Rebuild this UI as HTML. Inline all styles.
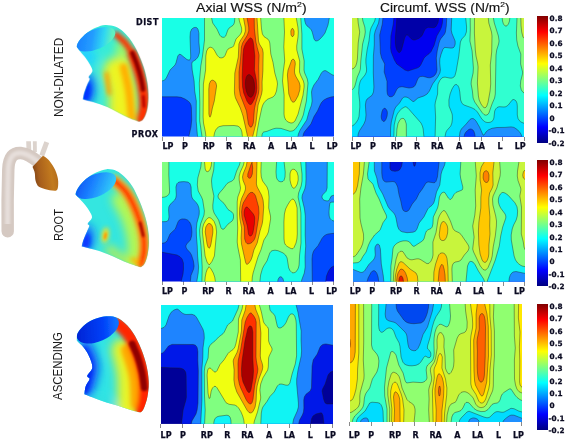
<!DOCTYPE html>
<html><head><meta charset="utf-8"><title>WSS maps</title><style>
html,body{margin:0;padding:0;background:#fff}
body{width:567px;height:439px;position:relative;overflow:hidden;font-family:"Liberation Sans",sans-serif}
.pn{position:absolute;display:block}
.t{position:absolute;white-space:nowrap;line-height:1;color:#111}
.title{font-size:13px;transform-origin:0 0;color:#111;-webkit-text-stroke:0.15px #111}
.title sup{font-size:8px;vertical-align:top;position:relative;top:-0.5px;line-height:1}
.rl{font-size:12.5px;transform-origin:0 0;color:#1a1a1a}
.b{font-family:"DejaVu Sans","Liberation Sans",sans-serif;font-weight:bold;font-size:8px;color:#0b0b22;-webkit-text-stroke:0.25px #0b0b22}
.c{font-size:7.3px}
.cb{position:absolute;left:537.2px;width:10.6px;background:linear-gradient(to bottom,#800000 0%,#ff0000 12.5%,#ffff00 37.5%,#00ffff 62.5%,#0000ff 87.5%,#000080 100%)}
.tk{position:absolute;width:1px;height:4px;background:#8a8a8a}
</style></head><body>
<div class="t title" id="t1" style="left:196px;top:1.1px;transform:scaleX(1.085)">Axial WSS (N/m<sup>2</sup>)</div>
<div class="t title" id="t2" style="left:380px;top:1.1px;transform:scaleX(1.06)">Circumf. WSS (N/m<sup>2</sup>)</div>
<div class="t rl" id="r0" style="left:53.3px;top:117.2px;transform:rotate(-90deg) scaleX(0.945)">NON-DILATED</div>
<div class="t rl" id="r1" style="left:53.4px;top:240.8px;transform:rotate(-90deg) scaleX(0.885)">ROOT</div>
<div class="t rl" id="r2" style="left:51.6px;top:400px;transform:rotate(-90deg) scaleX(0.915)">ASCENDING</div>
<div class="t b" style="left:136px;top:19.3px;letter-spacing:.5px">DIST</div>
<div class="t b" style="left:131.6px;top:130.7px;letter-spacing:.55px">PROX</div>
<div class="tk" style="left:161.8px;top:136.5px"></div>
<div class="t b" style="left:162.5px;top:143px">LP</div>
<div class="tk" style="left:183.2px;top:136.5px"></div>
<div class="t b" style="left:181.9px;top:143px">P</div>
<div class="tk" style="left:204.7px;top:136.5px"></div>
<div class="t b" style="left:202.7px;top:143px">RP</div>
<div class="tk" style="left:226.2px;top:136.5px"></div>
<div class="t b" style="left:226.1px;top:143px">R</div>
<div class="tk" style="left:247.6px;top:136.5px"></div>
<div class="t b" style="left:243.1px;top:143px">RA</div>
<div class="tk" style="left:269.1px;top:136.5px"></div>
<div class="t b" style="left:268.0px;top:143px">A</div>
<div class="tk" style="left:290.5px;top:136.5px"></div>
<div class="t b" style="left:285.6px;top:143px">LA</div>
<div class="tk" style="left:312.0px;top:136.5px"></div>
<div class="t b" style="left:309.6px;top:143px">L</div>
<div class="tk" style="left:333.4px;top:136.5px"></div>
<div class="t b" style="left:326.7px;top:143px">LP</div>
<div class="tk" style="left:351.9px;top:136.5px"></div>
<div class="t b" style="left:350.5px;top:143px">LP</div>
<div class="tk" style="left:373.3px;top:136.5px"></div>
<div class="t b" style="left:369.9px;top:143px">P</div>
<div class="tk" style="left:394.8px;top:136.5px"></div>
<div class="t b" style="left:390.7px;top:143px">RP</div>
<div class="tk" style="left:416.2px;top:136.5px"></div>
<div class="t b" style="left:414.1px;top:143px">R</div>
<div class="tk" style="left:437.7px;top:136.5px"></div>
<div class="t b" style="left:431.1px;top:143px">RA</div>
<div class="tk" style="left:459.1px;top:136.5px"></div>
<div class="t b" style="left:456.0px;top:143px">A</div>
<div class="tk" style="left:480.6px;top:136.5px"></div>
<div class="t b" style="left:473.6px;top:143px">LA</div>
<div class="tk" style="left:502.0px;top:136.5px"></div>
<div class="t b" style="left:497.6px;top:143px">L</div>
<div class="tk" style="left:523.5px;top:136.5px"></div>
<div class="t b" style="left:514.7px;top:143px">LP</div>
<div class="tk" style="left:161.8px;top:281.4px"></div>
<div class="t b" style="left:162.0px;top:288.3px">LP</div>
<div class="tk" style="left:183.2px;top:281.4px"></div>
<div class="t b" style="left:181.4px;top:288.3px">P</div>
<div class="tk" style="left:204.7px;top:281.4px"></div>
<div class="t b" style="left:202.2px;top:288.3px">RP</div>
<div class="tk" style="left:226.2px;top:281.4px"></div>
<div class="t b" style="left:225.6px;top:288.3px">R</div>
<div class="tk" style="left:247.6px;top:281.4px"></div>
<div class="t b" style="left:242.6px;top:288.3px">RA</div>
<div class="tk" style="left:269.1px;top:281.4px"></div>
<div class="t b" style="left:267.5px;top:288.3px">A</div>
<div class="tk" style="left:290.5px;top:281.4px"></div>
<div class="t b" style="left:285.1px;top:288.3px">LA</div>
<div class="tk" style="left:312.0px;top:281.4px"></div>
<div class="t b" style="left:309.1px;top:288.3px">L</div>
<div class="tk" style="left:333.4px;top:281.4px"></div>
<div class="t b" style="left:326.2px;top:288.3px">LP</div>
<div class="tk" style="left:352.8px;top:281.5px"></div>
<div class="t b" style="left:349.8px;top:288.3px">LP</div>
<div class="tk" style="left:374.2px;top:281.5px"></div>
<div class="t b" style="left:369.2px;top:288.3px">P</div>
<div class="tk" style="left:395.7px;top:281.5px"></div>
<div class="t b" style="left:390.0px;top:288.3px">RP</div>
<div class="tk" style="left:417.1px;top:281.5px"></div>
<div class="t b" style="left:413.4px;top:288.3px">R</div>
<div class="tk" style="left:438.6px;top:281.5px"></div>
<div class="t b" style="left:430.4px;top:288.3px">RA</div>
<div class="tk" style="left:460.1px;top:281.5px"></div>
<div class="t b" style="left:455.3px;top:288.3px">A</div>
<div class="tk" style="left:481.5px;top:281.5px"></div>
<div class="t b" style="left:472.9px;top:288.3px">LA</div>
<div class="tk" style="left:503.0px;top:281.5px"></div>
<div class="t b" style="left:496.9px;top:288.3px">L</div>
<div class="tk" style="left:524.4px;top:281.5px"></div>
<div class="t b" style="left:514.0px;top:288.3px">LP</div>
<div class="tk" style="left:160.1px;top:423.7px"></div>
<div class="t b" style="left:160.6px;top:431.5px">LP</div>
<div class="tk" style="left:181.5px;top:423.7px"></div>
<div class="t b" style="left:180.0px;top:431.5px">P</div>
<div class="tk" style="left:203.0px;top:423.7px"></div>
<div class="t b" style="left:200.8px;top:431.5px">RP</div>
<div class="tk" style="left:224.4px;top:423.7px"></div>
<div class="t b" style="left:224.2px;top:431.5px">R</div>
<div class="tk" style="left:245.9px;top:423.7px"></div>
<div class="t b" style="left:241.2px;top:431.5px">RA</div>
<div class="tk" style="left:267.4px;top:423.7px"></div>
<div class="t b" style="left:266.1px;top:431.5px">A</div>
<div class="tk" style="left:288.8px;top:423.7px"></div>
<div class="t b" style="left:283.7px;top:431.5px">LA</div>
<div class="tk" style="left:310.2px;top:423.7px"></div>
<div class="t b" style="left:307.7px;top:431.5px">L</div>
<div class="tk" style="left:331.7px;top:423.7px"></div>
<div class="t b" style="left:324.8px;top:431.5px">LP</div>
<div class="tk" style="left:349.2px;top:422.1px"></div>
<div class="t b" style="left:348.8px;top:431.5px">LP</div>
<div class="tk" style="left:370.6px;top:422.1px"></div>
<div class="t b" style="left:368.2px;top:431.5px">P</div>
<div class="tk" style="left:392.1px;top:422.1px"></div>
<div class="t b" style="left:389.0px;top:431.5px">RP</div>
<div class="tk" style="left:413.5px;top:422.1px"></div>
<div class="t b" style="left:412.4px;top:431.5px">R</div>
<div class="tk" style="left:435.0px;top:422.1px"></div>
<div class="t b" style="left:429.4px;top:431.5px">RA</div>
<div class="tk" style="left:456.4px;top:422.1px"></div>
<div class="t b" style="left:454.3px;top:431.5px">A</div>
<div class="tk" style="left:477.9px;top:422.1px"></div>
<div class="t b" style="left:471.9px;top:431.5px">LA</div>
<div class="tk" style="left:499.4px;top:422.1px"></div>
<div class="t b" style="left:495.9px;top:431.5px">L</div>
<div class="tk" style="left:520.8px;top:422.1px"></div>
<div class="t b" style="left:513.0px;top:431.5px">LP</div>
<div class="cb" style="top:16.2px;height:126.8px"></div>
<div class="t b c" style="left:549.6px;top:14.85px">0.8</div>
<div class="t b c" style="left:549.6px;top:27.33px">0.7</div>
<div class="t b c" style="left:549.6px;top:39.81px">0.6</div>
<div class="t b c" style="left:549.6px;top:52.29px">0.5</div>
<div class="t b c" style="left:549.6px;top:64.77px">0.4</div>
<div class="t b c" style="left:549.6px;top:77.25px">0.3</div>
<div class="t b c" style="left:549.6px;top:89.73px">0.2</div>
<div class="t b c" style="left:549.6px;top:102.21px">0.1</div>
<div class="t b c" style="left:549.6px;top:114.69px">0</div>
<div class="t b c" style="left:548.6px;top:127.17px">-0.1</div>
<div class="t b c" style="left:548.6px;top:139.65px">-0.2</div>
<div class="cb" style="top:160px;height:126.2px"></div>
<div class="t b c" style="left:549.6px;top:158.65px">0.8</div>
<div class="t b c" style="left:549.6px;top:171.13px">0.7</div>
<div class="t b c" style="left:549.6px;top:183.61px">0.6</div>
<div class="t b c" style="left:549.6px;top:196.09px">0.5</div>
<div class="t b c" style="left:549.6px;top:208.57px">0.4</div>
<div class="t b c" style="left:549.6px;top:221.05px">0.3</div>
<div class="t b c" style="left:549.6px;top:233.53px">0.2</div>
<div class="t b c" style="left:549.6px;top:246.01px">0.1</div>
<div class="t b c" style="left:549.6px;top:258.49px">0</div>
<div class="t b c" style="left:548.6px;top:270.97px">-0.1</div>
<div class="t b c" style="left:548.6px;top:283.45px">-0.2</div>
<div class="cb" style="top:304px;height:126.4px"></div>
<div class="t b c" style="left:549.6px;top:302.65px">0.8</div>
<div class="t b c" style="left:549.6px;top:315.13px">0.7</div>
<div class="t b c" style="left:549.6px;top:327.61px">0.6</div>
<div class="t b c" style="left:549.6px;top:340.09px">0.5</div>
<div class="t b c" style="left:549.6px;top:352.57px">0.4</div>
<div class="t b c" style="left:549.6px;top:365.05px">0.3</div>
<div class="t b c" style="left:549.6px;top:377.53px">0.2</div>
<div class="t b c" style="left:549.6px;top:390.01px">0.1</div>
<div class="t b c" style="left:549.6px;top:402.49px">0</div>
<div class="t b c" style="left:548.6px;top:414.97px">-0.1</div>
<div class="t b c" style="left:548.6px;top:427.45px">-0.2</div>
<svg class="pn" style="left:162px;top:18px" width="172" height="118.5" viewBox="0 0 172 118.5">
<rect width="172" height="118.5" fill="#0038ff"/>
<path fill="#1e90ff" fill-rule="evenodd" d="M0,0 172,0 172,78.6 169,79 165,80.3 162,81.9 160,83.8 158.6,86 155.5,93 152,98.6 148.9,106 142.3,114 141.4,116 141,118.5 26.8,118.5 29,108.9 29.7,102 29.4,90 29,87.2 28,84.9 26,83 23,81 19,79.3 15,78.8 0,78.8 0,0Z"/>
<path fill="#19ffe6" fill-rule="evenodd" d="M0,0 142.5,0 142.8,3 143.7,6 145,7.9 148,10.3 149.3,12 150.2,14 152,20.9 153,22.5 154,23 156,22.6 158,21 160.8,18 163,15 166,7 167.3,0 172,0 172,57.4 170,56.7 164,52.8 163,52.6 161.3,53 159.4,55 156,61.5 151.9,67 150.1,71 149.5,74 150.1,83 149.5,87 147,93.7 144.7,102 138.1,112 136.4,116 135.9,118.5 35.5,118.5 34.2,103 34.3,83 32.7,73 32.1,63 30.2,52 29.8,46 30.2,44 34,41.4 36,39 37.4,35 37.6,32 36.9,24 36.9,16 36.3,12 35,9.9 34,9.4 32,9.5 29.8,11 28.4,14 28,19 28.7,38 28.6,40 28,41.7 27,42.1 25,41.6 19,36.7 18,36.3 17,36.4 15.8,38 14,44.8 13,47 8,52.1 4,60.6 2,62.4 0,62.9 0,0Z"/>
<path fill="#80ff80" fill-rule="evenodd" d="M42.5,0 49.6,0 50.7,5 55,11.1 57.7,17 59,18.6 61,19.4 62.6,19 63.7,18 65.8,12 67,10.1 71,7.3 71.9,6 72.5,4 72.8,0 138.8,0 139.9,16 139.9,31 142.2,43 142,52 142.7,55 145.3,61 145.9,66 144.4,83 141.3,97 139.7,101 136.9,106 134,110.3 132,112.2 130,113.2 128,113.3 118,110.2 113,110.3 105,113.3 101.7,114 101,114.5 100.2,116 99.8,118.5 40,118.5 37.7,103 37.8,85 37.3,65 38.8,48 40.5,38 42.5,22 42.5,0Z"/>
<path fill="#f0ff10" fill-rule="evenodd" d="M76.9,0 98.7,0 99.5,11 100.4,16 102,18.6 106,21.2 107.2,23 107.8,25 108.8,36 111,44.4 112.8,55 115.3,64 115.3,68 114.2,74 113.5,76 112,78.1 110,79.5 105,81.6 103,83.5 101,86.5 99.8,90 97,102.9 95,114 94.5,118.5 80.4,118.5 79.9,114 79,111.3 78,109.7 76,108.1 72,107.5 61,107.7 58,108.2 56,109.3 54,111.6 52.5,115 51.9,118.5 43.9,118.5 43.4,114 41.5,105 41.1,99 41.4,66 43.6,52 43.8,38 44.6,33 46.4,30 48,29.2 49,29.3 50.4,30 52,31.5 55,37.1 57,39.3 58,39.8 60,39.9 62,38.9 63,37.5 65,32.6 66,31.1 67.8,30 70.6,29 71.6,28 74,21 78,16.8 79.1,15 79.7,13 79.6,10 77.4,3 76.9,0ZM121.9,0 134.3,0 135.9,9 136.3,14 136,19 134.7,28 134.8,32 137.7,43 137.5,54 138.5,57 141.4,63 142.1,66 142.1,70 141.2,76 137,93.3 133.6,102 132,104.1 130,105 127,104.5 124.7,103 123,100.8 122.1,97 122.1,77 120.5,63 121.2,54 122.7,43 121.8,29 122.5,14 121.9,0Z"/>
<path fill="#ffa000" fill-rule="evenodd" d="M81.5,0 95,0 96.5,23 97.4,26 100.5,31 101.1,34 100.9,53 100.1,64 100.2,73 99.6,76 96.1,87 93.8,106 90.7,118.5 85.6,118.5 80.1,95 78,89.4 73.8,81 72.5,75 72.8,55 76.3,39 76.9,26 78.1,23 82.1,17 83.4,13 83.2,9 81.5,0ZM129.6,11 130,10.5 131,10.7 132.1,13 132,16.8 131,18.4 130,18.5 129,16.9 128.8,13 129.6,11ZM129.7,42 131,41 132,41.6 133,43.4 133.3,46 132.5,52 132.6,55 133.6,58 137.1,64 138.1,68 137.8,72 136,77.9 133,83.3 132,84.1 131,84.2 130,83.6 129,82.1 126.8,76 125.4,57 126,52.2 129.7,42ZM48.6,63 50,62.1 51,62.2 52.5,63 54,65 54.6,68 52.3,83 50.4,90 49,97 48,99.2 47.3,98 46.9,96 46.8,71 47.3,66 48.6,63Z"/>
<path fill="#ff4800" fill-rule="evenodd" d="M85.1,0 92.2,0 92.4,11 93.9,24 94.9,29 96.8,35 97.1,38 96.7,47 96.8,74 92.5,90 91.3,105 90,108.4 89,109.2 88,108.9 86.4,106 84.5,93 78.3,77 77.2,70 77,54 78.5,41 79.4,29 80.6,25 85.4,17 86.8,13 86.7,9 85.1,0Z"/>
<path fill="#cc0000" fill-rule="evenodd" d="M88.5,20 89,19.8 90.2,21 91,22.9 91.7,27 92.8,38 92.4,52 94.3,62 94.8,70 94.3,75 92.4,81 90,85.6 89,86.5 88,86.6 87,86 85,83.2 81.7,75 80.6,69 80.2,59 81,36.9 81.6,31 82.5,28 84,25 87,20.9 88.5,20Z"/>
<path fill="#8c0000" fill-rule="evenodd" d="M85.6,57 87,56.5 88,56.8 90,58.6 91.3,61 92.3,65 92.6,70 92.2,74 91,77.2 90,78.6 89,79.3 87.6,79 86,77.2 84.6,74 83.7,70 83.4,66 83.6,62 84.3,59 85.6,57Z"/>
<path fill="none" stroke="#1a1a1a" stroke-opacity="0.75" stroke-width="0.55" d="M172,78.6 169,79 165,80.3 162,81.9 160,83.8 158.6,86 155.5,93 152,98.6 148.9,106 142.3,114 141.4,116 141,118.5M26.8,118.5 29,108.9 29.7,102 29.4,90 29,87.2 28,84.9 26,83 23,81 19,79.3 15,78.8 0,78.8M142.5,0 142.8,3 143.7,6 145,7.9 148,10.3 149.3,12 150.2,14 152,20.9 153,22.5 154,23 156,22.6 158,21 160.8,18 163,15 166,7 167.3,0M172,57.4 170,56.7 164,52.8 163,52.6 161.3,53 159.4,55 156,61.5 151.9,67 150.1,71 149.5,74 150.1,83 149.5,87 147,93.7 144.7,102 138.1,112 136.4,116 135.9,118.5M35.5,118.5 34.2,103 34.3,83 32.7,73 32.1,63 30.2,52 29.8,46 30.2,44 34,41.4 36,39 37.4,35 37.6,32 36.9,24 36.9,15 35.9,11 35,9.9 34,9.4 32,9.5 29.8,11 28.4,14 28,19 28.7,38 28.6,40 28,41.7 27,42.1 25,41.6 19,36.7 18,36.3 17,36.4 15.8,38 14,44.8 13,47 8,52.1 4,60.6 2,62.4 0,62.9M49.6,0 50.7,5 55,11.1 57.7,17 59,18.6 61,19.4 62.6,19 63.7,18 65.8,12 67,10.1 71,7.3 71.9,6 72.5,4 72.8,0M138.8,0 139.9,16 139.9,31 142.2,43 142,52 142.7,55 145.3,61 146,65 144.4,83 141.3,97 139.7,101 136,107.5 133,111.4 131,112.8 128,113.3 119,110.4 114,110.2 111,110.9 105,113.3 101.7,114 101,114.5 100.2,116 99.8,118.5M40,118.5 37.7,103 37.8,85 37.3,65 38.8,48 40.5,38 42.5,22 42.5,0M98.7,0 99.5,11 100.4,16 102,18.6 106,21.2 107.2,23 107.8,25 108.8,36 111,44.4 112.8,55 115.1,63 115.5,66 114.5,73 112.9,77 111,79 106,81 104.5,82 102,84.8 100.8,87 99.8,90 97,102.9 95,114 94.5,118.5M134.3,0 135.9,9 136.3,14 136,19 134.7,28 134.8,32 137.7,43 137.5,54 138.5,57 141.4,63 142.1,66 142.1,69 141,77.2 136,96.3 133,103 131,104.7 129,105.1 126,104 123.7,102 122.4,99 122,96 122.1,77 120.5,63 121.2,54 122.7,43 121.8,29 122.5,14 121.9,0M43.9,118.5 43.4,114 41.5,105 41.1,99 41.4,66 43.6,52 43.8,38 44.6,33 46.4,30 48,29.2 49,29.3 50.4,30 52,31.5 55,37.1 57,39.3 58,39.8 60,39.9 62,38.9 63,37.5 65,32.6 66,31.1 67.8,30 70.6,29 71.6,28 74,21 78,16.8 79.1,15 79.7,13 79.6,10 77.4,3 76.9,0M80.4,118.5 79.9,114 79,111.3 78,109.7 76,108.1 72,107.5 61,107.7 57,108.7 55,110.2 53.7,112 52.5,115 51.9,118.5M95,0 96.5,23 97.4,26 100.5,31 101.2,35 100.9,53 100.1,64 100.2,72 99.6,76 96.1,87 93.8,106 90.7,118.5M129.6,11 130,10.5 131,10.7 132.1,13 132,16.8 131,18.4 130,18.5 129,16.9 128.8,13 129.6,11M129.7,42 131,41 132,41.6 133,43.4 133.3,46 132.5,52 132.6,55 133.6,58 137.1,64 138.1,68 137.8,72 136,77.9 133,83.3 132,84.1 131,84.2 130,83.6 129,82.1 126.8,76 125.4,57 126,52.2 129.7,42M48.6,63 50,62.1 51,62.2 52.5,63 54,65 54.6,68 52.3,83 50.4,90 49,97 48,99.2 47.3,98 46.9,96 46.8,71 47.3,66 48.6,63M85.6,118.5 81,97.9 78.3,90 73.5,80 72.7,77 72.4,73 72.8,55 76.3,39 76.9,26 78.1,23 82.1,17 83.4,13 83.2,9 81.5,0M92.2,0 92.4,11 93.9,24 97.1,37 96.7,48 97,71 96.4,76 93.7,85 92.4,91 91.3,105 90,108.4 89,109.2 88,108.9 86.4,106 84.5,93 78.3,77 77.2,70 77,54 78.5,41 79.4,29 80.6,25 85.4,17 86.8,13 86.7,9 85.1,0M88.5,20 89,19.8 90.2,21 91,22.9 91.7,27 92.8,38 92.4,52 94.3,62 94.8,70 94.3,75 92.4,81 90,85.6 89,86.5 88,86.6 87,86 85,83.2 81.7,75 80.6,69 80.2,59 81,36.9 81.6,31 82.5,28 84,25 87,20.9 88.5,20M85.6,57 87,56.5 88,56.8 90,58.6 91.3,61 92.3,65 92.6,70 92.2,74 91,77.2 90,78.6 89,79.3 87.6,79 86,77.2 84.6,74 83.7,70 83.4,66 83.6,62 84.3,59 85.6,57"/>
</svg>
<svg class="pn" style="left:352px;top:18px" width="172" height="118.5" viewBox="0 0 172 118.5">
<rect width="172" height="118.5" fill="#0000a8"/>
<path fill="#0000f0" fill-rule="evenodd" d="M0,0 44.8,0 44.5,7 43.4,19 43.4,25 43.9,29 44.9,32 46,33.8 47,34.5 48,34.3 49.5,32 52.6,20 54,17.2 55,16.8 56,17.3 59,20.6 61,21.9 63,22 67,20.3 70,17.7 72.6,12 74,10.2 76,9.3 82,9.7 84,8.4 86,4.6 86.7,0 172,0 172,118.5 0,118.5 0,0Z"/>
<path fill="#0040ff" fill-rule="evenodd" d="M0,0 41.8,0 41.3,6 38.9,18 38.6,30 39.2,34 42.4,42 44.8,46 53,52.1 56,53 65,50.1 67.1,49 68.7,47 72.1,40 74,38 77,35.8 79,33.6 82,27.5 84.8,18 88.2,12 89.5,9 90.4,5 90.7,0 172,0 172,118.5 0,118.5 0,0Z"/>
<path fill="#1e90ff" fill-rule="evenodd" d="M0,0 30.9,0 30.3,6 27.7,17 28.4,35 29.6,40 32.7,46 32.2,54 35,63.3 35,73 35.4,76 36,77.3 37,78.4 39,78.9 41,78.1 42,77.1 45,71 47,69.2 50,68.7 57,70 60,69.6 62,68.7 63.4,67 66,60.4 68,58.6 71,58.3 76,59.7 78,59.8 81,58.7 83,57 84.2,55 85,52 84.3,40 85.2,33 87,25 88,22.1 89,20.4 92.6,16 93.4,14 94.3,8 94.7,0 172,0 172,118.5 123.1,118.5 122.8,116 122,113.6 121,112 119,110.9 117,111.3 114,113.9 112.7,116 112.1,118.5 0,118.5 0,0ZM32,90.3 31,91.3 30,93.5 29.2,98 29.3,100 30,102.2 31,103.3 32,103.4 33,102.8 34,101.2 35.1,98 35.4,95 35.1,93 34,91.1 33,90.3 32,90.3Z"/>
<path fill="#00e0ff" fill-rule="evenodd" d="M0,0 27.4,0 26.6,5 23.2,13 22.3,17 22.3,27 21.4,38 21.3,55 21.9,69 21.5,74 20,77.3 15.1,81 14,83 13.4,87 14,97 13.5,102 11.9,106 7.3,113 6.2,116 5.9,118.5 0,118.5 0,0ZM99.7,0 172,0 172,118.5 169.7,118.5 169.4,117 168.3,115 164.6,111 162,109.4 159,108.9 153,109.4 145,109.5 140,110.3 136.2,112 134,114 132,117.1 131,117 127.5,109 124,103 122,100.9 120,100.4 118,101.4 114.2,106 109.4,111 108,114 107.4,118.5 38.5,118.5 38.6,110 39.3,104 42.3,92 43.8,89 47.5,85 50.6,80 52,79.1 54,79 56,79.6 61,83.6 62,83.4 65.9,80 72,77.9 75.1,76 77.4,73 80.6,66 85.7,59 87.9,55 88.4,52 87.7,45 87.8,41 89,36.4 91,31.1 92,29.9 93,29.4 99,30.1 101,29.9 102,29.1 102.6,28 103.2,26 103.1,23 100,15.6 99.2,12 99.7,0Z"/>
<path fill="#30ffd0" fill-rule="evenodd" d="M0,0 23.4,0 22.7,3 19,10 18,14 17,22.9 15.1,32 13.9,41 13.9,45 14.6,51 14.4,54 13,57 8.9,62 8,64 7.1,68 6.7,75 7.7,84 7.8,89 7,98.5 6,101.5 4.5,104 2,106.9 0,108.1 0,0ZM113.7,0 172,0 172,105.3 168.9,104 167,102.2 166,100.4 165.3,97 165.3,88 165,85.3 164,82.9 162,81.5 161,81.5 160,82.2 156.3,87 154,88.7 152,89 147,88.7 145,89.6 143.7,91 142.7,93 141.9,100 141,102.4 139,104 137,104.5 135,104.5 133,103.9 130,101.3 125.4,94 123,91.5 120,89.9 112,87 110,85.4 108.6,82 107.8,74 107,69.9 106,67.8 105,66.8 104,66.5 103,66.8 102,67.7 100,71.1 98.1,76 96.9,82 97,88 99.8,95 100.4,98 100.2,103 99.3,107 98.1,109 94.5,113 93.3,116 93,118.5 83.1,118.5 83.6,99 83,87 83.4,84 85.6,76 85.7,69 86.1,66 88,62.1 90,59.9 91,59.4 93,59.1 98,60.1 100,60.1 102,59 103,57.4 104.2,53 106.8,38 108.4,24 109.8,21 113,17.6 114.4,14 114.6,9 113.7,0ZM52.4,89 54,88.8 56,90.2 69,105 70.4,108 71.2,111 71.9,118.5 41.8,118.5 42.2,107 44,99.1 45.3,96 47,93.4 50,90.5 52.4,89Z"/>
<path fill="#80ff80" fill-rule="evenodd" d="M0,0 10.4,0 10.9,3 12.8,9 13.3,13 13,17 10.6,26 8.2,52 5.3,59 2.9,68 1.9,70 0,71.9 0,0ZM118.2,0 141.4,0 142,4 145.3,14 146.8,20 147,24 144.7,32 143.9,38 143.5,73 143.1,78 137,94.7 136,96.3 134,97.3 132,96.6 130,94.4 122.7,84 121.1,80 120.4,73 119.1,66 119.3,63 121.1,55 121.4,50 120.1,33 117.9,23 118.3,12 118.2,0ZM150.2,0 157.8,0 157,4.8 156,6.8 155,7.8 154,8.1 153,7.9 152,7 150.7,4 150.2,0ZM165,0 172,0 172,74.9 171,74.3 169.3,72 168.3,68 168.7,63 170.5,56 170.6,54 168.6,46 168.8,36 165.9,28 164.7,22 164.4,15 165,0ZM48.7,101 50,100.3 51,100.3 52,100.8 53.8,104 54.6,109 54.4,118.5 44.5,118.5 44.8,112 45.6,107 47,103.1 48.7,101Z"/>
<path fill="#c8f53c" fill-rule="evenodd" d="M0,0 5.8,0 6.2,5 7.7,14 6.2,24 5.8,36 4.9,44 4.1,47 3,49.1 2,50.2 0,51 0,0ZM122.5,0 136.3,0 136.8,5 139.8,16 139.7,34 138.3,47 138.8,62 138.5,70 135.9,85 134.8,88 134,89.2 133,89.8 132,89.6 131,88.8 129,86 127.2,82 126.4,78 125.4,65 126.1,49 125.6,45 124,38 123.3,32 122.4,15 122.5,0ZM168.8,0 172,0 172,20.3 171,19 169.7,14 169,7.5 168.8,0Z"/>
<path fill="none" stroke="#1a1a1a" stroke-opacity="0.75" stroke-width="0.55" d="M44.8,0 44.5,7 43.4,19 43.4,25 43.9,29 44.9,32 46,33.8 47,34.5 48,34.3 49.5,32 52.6,20 54,17.2 55,16.8 56,17.3 59,20.6 61,21.9 63,22 67,20.3 70,17.7 72.6,12 74,10.2 76,9.3 82,9.7 84,8.4 86,4.6 86.7,0M41.8,0 41.3,6 38.9,18 38.6,30 39.2,34 42.4,42 44.8,46 53,52.1 56,53 65,50.1 67.1,49 68.7,47 72.1,40 74,38 77,35.8 79,33.6 82,27.5 84.8,18 88.2,12 89.5,9 90.4,5 90.7,0M30.9,0 30.3,6 27.7,17 28.4,35 29.6,40 32.7,46 32.2,54 35,63.3 35,73 35.4,76 36,77.3 37,78.4 39,78.9 41,78.1 42,77.1 45,71 47,69.2 50,68.7 57,70 60,69.6 62,68.7 63.4,67 66,60.4 68,58.6 71,58.3 76,59.7 78,59.8 81,58.7 83,57 84.2,55 85,52 84.3,40 85.2,33 87,25 88,22.1 89,20.4 92.6,16 93.4,14 94.3,8 94.7,0M32,90.3 31,91.3 30,93.5 29.2,98 29.3,100 30,102.2 31,103.3 32,103.4 33,102.8 34,101.2 35.1,98 35.4,95 35.1,93 34,91.1 33,90.3 32,90.3M123.1,118.5 122.8,116 122,113.6 121,112 119,110.9 117,111.3 114,113.9 112.7,116 112.1,118.5M27.4,0 26.6,5 23.2,13 22.3,17 22.3,27 21.4,38 21.3,55 21.9,69 21.5,74 20,77.3 15.1,81 14,83 13.4,87 14,97 13.5,102 11.9,106 7.3,113 6.2,116 5.9,118.5M38.5,118.5 38.6,110 39.3,104 42.3,92 43.8,89 47.5,85 50.6,80 52,79.1 54,79 56,79.6 61,83.6 62,83.4 65.9,80 72,77.9 75.1,76 77.4,73 80.6,66 85.7,59 87.9,55 88.4,52 87.7,45 87.8,41 89,36.4 91,31.1 92,29.9 93,29.4 99,30.1 101,29.9 102,29.1 102.6,28 103.2,26 103.1,23 100,15.6 99.2,12 99.7,0M169.7,118.5 169.4,117 168.3,115 165.8,112 162,109.4 159,108.9 153,109.4 145,109.5 140,110.3 136.2,112 134,114 132,117.1 131,117 127.5,109 124,103 122,100.9 120,100.4 118,101.4 114.2,106 109.4,111 108,114 107.4,118.5M23.4,0 22.7,3 19,10 18,14 17,22.9 15.1,32 13.9,41 13.9,45 14.6,51 14.4,54 13,57 8.9,62 8,64 7.1,68 6.7,75 7.7,84 7.8,89 7,98.5 6,101.5 4.5,104 2,106.9 0,108.1M172,105.3 168.9,104 167,102.2 166,100.4 165.3,97 165.3,88 165,85.3 164,82.9 162,81.5 161,81.5 160,82.2 156.3,87 154,88.7 152,89 147,88.7 145,89.6 143.7,91 142.7,93 141.9,100 141,102.4 139,104 137,104.5 135,104.5 133,103.9 130,101.3 125.4,94 123,91.5 120,89.9 112,87 110,85.4 108.6,82 107.8,74 107,69.9 106,67.8 105,66.8 104,66.5 103,66.8 102,67.7 100,71.1 98.1,76 96.9,82 97,88 99.8,95 100.3,97 100.4,101 99.9,105 98.8,108 95,112.3 94,114 93,118.5M41.8,118.5 42.2,107 44,99 45.3,96 47,93.4 50,90.5 53,88.8 54,88.8 56,90.2 69,105 70.4,108 71.2,111 71.9,118.5M83.1,118.5 83.6,99 83,87 83.4,84 85.6,76 85.7,69 86.1,66 88,62.1 90,59.9 91,59.4 93,59.1 98,60.1 100,60.1 102,59 103,57.4 104.2,53 106.8,38 108.4,24 109.8,21 113,17.6 114.4,14 114.6,9 113.7,0M10.4,0 10.9,3 12.8,9 13.3,14 12.7,18 10.6,26 8.8,43 8.4,51 7.5,54 5.3,59 2.9,68 1.9,70 0,71.9M141.4,0 142.3,5 146.4,18 147.1,23 146.6,26 144.7,32 144,37.1 143.3,76 142.6,80 140,86 137,94.7 136,96.3 134,97.3 132,96.6 130,94.4 122.7,84 121.1,80 120.4,73 119.1,66 119.3,63 121.1,55 121.4,50 120.1,33 117.9,23 118.3,12 118.2,0M157.8,0 157.5,3 156.4,6 155,7.8 154,8.1 153,7.9 151.4,6 150.5,3 150.2,0M172,74.9 171,74.3 169.3,72 168.3,68 168.7,63 170.5,56 170.6,54 168.6,46 168.8,36 165.9,28 164.7,22 164.4,15 165,0M44.5,118.5 44.9,111 46,105.5 48,101.7 49,100.8 51,100.3 52,100.8 53,102.1 54.3,106 54.4,118.5M5.8,0 6.2,5 7.7,14 6.2,25 5.4,41 4.7,45 3.7,48 2,50.2 0,51M136.3,0 136.8,5 139.5,14 140,18 139.7,34 138.3,47 138.7,66 138.1,73 136,84.4 134.8,88 134,89.2 133,89.8 132,89.6 131,88.8 129,86 127.2,82 126.4,78 125.4,65 126.1,49 125.6,45 124,38 123.3,32 122.4,15 122.5,0M172,20.3 171,19 169.7,14 169,7.5 168.8,0"/>
</svg>
<svg class="pn" style="left:162px;top:162px" width="172" height="119.5" viewBox="0 0 172 119.5">
<rect width="172" height="119.5" fill="#0010e0"/>
<path fill="#0048ff" fill-rule="evenodd" d="M0,0 172,0 172,103.9 169,105.6 166.5,109 164.5,114 163.7,119.5 19.1,119.5 21,112 21.5,107 21.4,101 20.1,97 18,94.7 15,93 0,90.2 0,0Z"/>
<path fill="#1e90ff" fill-rule="evenodd" d="M0,0 172,0 172,71.3 166,72 164,72.7 162,74 160,76.4 156,83.7 152.3,88 151.2,90 150.4,93 150,97 150.3,119.5 28.3,119.5 29,113.4 31.6,107 32.1,104 31.4,99 29.5,93 28,90.5 24.8,87 23.9,85 24,83.6 24.7,82 28.4,78 29.6,74 29.9,70 29.6,66 29,63 27.6,60 25.5,58 23,57 20,56.9 17.4,58 16,59.9 13.3,67 8,72 5,79.1 3,80.7 0,81.3 0,0Z"/>
<path fill="#19ffe6" fill-rule="evenodd" d="M0,0 143.8,0 144,17 143.7,23 142.8,27 140.3,33 139.9,36 142.5,47 143.3,54 143.2,73 143.7,84 143,95 143.2,105 142.3,111 139.7,118 139.4,119.5 121.7,119.5 121,116.8 120,115.4 119,114.8 118,114.8 117,115.6 116,117.7 115.7,119.5 34.8,119.5 36.2,111 36.6,105 35.6,94 34.3,68 34.9,61 37.3,52 37.3,49 36.6,45 35,41.5 31,37.2 29.8,35 29.3,32 29.1,25 28,21.6 26,20.1 24,19.7 20,19.6 17,20.1 15,21.6 14,24 14.3,33 13.8,36 12.7,38 8,42.6 6.8,45 6.6,48 7,55 6.4,58 5.5,59 4,59.6 0,59.7 0,0ZM165.3,0 172,0 172,33.2 169.4,34 168.4,35 167,38.4 166,38.9 165,39 163,38.6 161,37.4 159.9,35 160.5,33 164.2,29 165.1,26 165.3,0ZM168,41 169,40.2 172,40.1 172,59 170,58.4 169,57.7 167.4,55 167,49 168,41Z"/>
<path fill="#80ff80" fill-rule="evenodd" d="M0,0 6.9,0 6.8,13 7.7,28 7.4,31 6,33.4 3,35 0,35.4 0,0ZM39.3,0 52.2,0 51.7,8 49.8,16 49.5,19 50,25 51.9,34 50.8,43 50.9,47 52.1,51 56.6,58 59,65.7 60,67 61,67.3 62,67 66,62.1 70,59.1 70.8,58 71.5,56 71.5,53 71,51.5 70,50.2 66,47.5 62,41.4 57.1,37 56,35 56.2,33 57.4,31 61,26.9 65,21.6 67,20.3 70.1,19 72,17.1 74.6,9 77.4,3 78.2,0 114.6,0 114,10 114.4,15 115,17 116,18.5 117,19.3 119,19.9 121,19.3 122,18.3 123,15 123.2,10 122.1,0 138.7,0 140,12 140,19 139.2,24 136.6,31 136.1,35 138.3,46 138.9,51 139,82 137.6,93 137,104 136,107 134,109.8 133,110.5 131,110.9 129.2,110 128,108.6 126.4,105 125.1,96 124.2,94 123,92.5 121,90.9 118,89.4 115,88.5 112,88.2 110,88.7 108,90.6 105,98.9 101,105.4 98.8,112 97.9,119.5 39.9,119.5 40.2,105 39,84 37.8,73 37.6,68 38.6,62 42,53 42.4,49 40.7,38 39.5,35 36.2,29 35.3,23 35.8,16 38.8,5 39.3,0Z"/>
<path fill="#f0ff10" fill-rule="evenodd" d="M42.5,0 49.6,0 48.6,6 47,8.9 46,9.6 45,9.7 44,9 43.5,8 42.8,5 42.5,0ZM82,1 82.1,0 99.2,0 98.9,10 99.3,15 100.6,19 105,25 106.4,29 107,35 106.7,46 108.6,55 108.5,58 106.4,70 105.1,73 101.9,78 99,87.7 96,94.9 91.1,111 90.3,115 90,119.5 78.7,119.5 78.4,98 75.3,81 75.2,75 75.7,66 75.2,54 75.2,39 75.8,35 78,29 78.5,26 77.2,18 77.1,15 78,11 81.1,4 82,1ZM129.4,8 131,7.1 133,7.7 135,10.2 136.1,14 136.2,18 135.3,22 134,24.6 132,26.4 131,26 130,24.7 128.9,22 128,18.1 128,12 128.4,10 129.4,8ZM131,37 132,37.7 133,39.3 134.1,42 135.1,46 135.3,72 134.9,77 134,81 132,85.5 131,86.6 130,86.8 128,86.1 125,84.3 123.6,83 122.5,81 122,77 121.9,60 122.4,52 123.6,47 125.6,43 128,39.2 130,37.2 131,37ZM45.9,56 47,55.5 49,56.1 52,59.3 53.9,64 54.6,70 52.4,94 50,99.4 48,102.2 47,102.9 45,100 43.1,94 40.4,70 40.6,66 41.7,62 44,57.9 45.9,56ZM46.9,105 47,104.7 48,105.5 51.3,111 52.7,115 53.4,119.5 42.8,119.5 43.2,115 44,110.8 45,107.8 46.9,105Z"/>
<path fill="#ffa000" fill-rule="evenodd" d="M85,0 95,0 94.4,22 95.2,25 99.5,33 100.6,36 101.4,40 101.7,45 100.6,60 98,69.1 95.6,80 91.9,88 90.1,95 89,97.9 87,101 85,102.5 84,101.6 83.5,100 79.5,82 79.1,76 79.6,66 77.9,57 77.5,52 77.7,46 78.6,40 79.8,36 82.6,30 83.5,27 83.3,24 81,18.3 80.5,15 81.1,12 84.3,4 85,0ZM45.7,62 47,61.3 49,62.2 50.2,64 50.9,67 50.8,71 49,81.9 48,85.4 47,86.3 46,85.1 45,81.7 43.2,70 43.8,65 45.7,62Z"/>
<path fill="#ff4000" fill-rule="evenodd" d="M89.8,1 90,0.2 90.7,6 90.3,12 89,15.4 88,16.2 87,16.2 85.8,15 85.8,12 89,2.4 89.8,1ZM87.7,31 89,30.3 91,30.6 92.4,32 93.6,34 96.6,45 97,51 96.3,58 94,72 93,75.9 92,78.1 90,80.4 88,81.6 86,81.9 85,81.6 84,80.6 82.7,77 82.4,65 80,55.7 79.6,50 80.1,45 81.2,41 86,32.9 87.7,31Z"/>
<path fill="#e80000" fill-rule="evenodd" d="M85,45 86,45.7 91.3,52 92.3,54 92.7,56 92.4,62 91,70.4 90,72.9 89,73.9 88,74.1 87,73.3 86.5,72 85.4,64 82.2,53 82.2,50 82.8,47 84,45.1 85,45Z"/>
<path fill="none" stroke="#1a1a1a" stroke-opacity="0.75" stroke-width="0.55" d="M172,103.9 169,105.6 166.5,109 164.5,114 163.7,119.5M19.1,119.5 21,112 21.5,107 21.4,101 20.1,97 18,94.7 15,93 0,90.2M172,71.3 166,72 164,72.7 162,74 160,76.4 156,83.7 152.3,88 151.2,90 150.4,93 150,97 150.3,119.5M28.3,119.5 29,113.4 31.6,107 32.1,104 31.4,99 29.5,93 28,90.5 24.8,87 23.9,85 24,83.6 24.7,82 28.4,78 29.6,74 29.9,70 29.6,66 29,63 27.6,60 25.5,58 23,57 20,56.9 17.4,58 16,59.9 13.3,67 8,72 5,79.1 3,80.7 0,81.3M143.8,0 144,17 143.7,23 142.8,27 140.3,33 139.9,36 142.5,47 143.3,54 143.2,73 143.7,84 143,95 143.2,105 142.3,111 139.7,118 139.4,119.5M172,33.2 170,33.7 169,34.4 167,38.4 166,38.9 164,38.8 162,38.2 161,37.4 160.1,36 160,34.3 160.5,33 164,29.4 165.1,26 165.3,0M172,59 170,58.4 168,56.4 167.2,54 167,51 167.4,44 168,40.9 169,40.2 172,40.1M34.8,119.5 36.2,111 36.6,105 35.6,94 35.3,84 34.4,74 34.3,67 34.9,61 37.1,53 37.3,49 36.9,46 35.9,43 34,40.3 30.8,37 29.8,35 29.3,32 29.1,25 28.2,22 27.4,21 26,20.1 22,19.6 17.5,20 16,20.6 15,21.6 13.9,25 14.3,33 13.8,36 12.7,38 8,42.6 6.8,45 6.6,48 7,55 6.4,58 5.5,59 4,59.6 0,59.7M121.7,119.5 121,116.8 120,115.4 119,114.8 118,114.8 117,115.6 116,117.7 115.7,119.5M6.9,0 6.8,13 7.6,30 7,32.1 5.2,34 3,35 0,35.4M52.2,0 51.7,8 49.8,16 49.5,19 50,25 51.9,34 50.8,43 50.9,47 52.1,51 56.6,58 59,65.7 60,67 61,67.3 62,67 66,62.1 70,59.1 70.8,58 71.5,56 71.5,53 71,51.5 70,50.2 66,47.5 62,41.4 57.1,37 56,35 56.2,33 57.4,31 61,26.9 65,21.6 67,20.3 70.1,19 72,17.1 74.6,9 77.4,3 78.2,0M114.6,0 114,10 114.4,15 115,17 116,18.5 117,19.3 119,19.9 121,19.3 122,18.3 123,15 123.2,10 122.1,0M138.7,0 140,12 140,19 139.2,24 136.6,31 136.1,35 138.3,46 138.9,51 139,81 137.6,93 137.1,103 136.4,106 135,108.7 133,110.5 131,110.9 130,110.6 128,108.6 126.7,106 125.1,96 123.5,93 121,90.9 116,88.7 113,88.2 110,88.7 109,89.4 107.8,91 105,98.9 101.7,104 100.3,107 98.6,113 97.9,119.5M39.9,119.5 40.2,105 39,84 37.8,73 37.6,68 38.6,62 42,53 42.4,49 40.7,38 39.5,35 36.2,29 35.3,23 35.8,16 38.8,5 39.3,0M49.6,0 49.2,4 48,7.5 47,8.9 46,9.6 45,9.7 44,9 43.2,7 42.5,0M99.2,0 98.9,10 99.3,15 100.6,19 105,25 106.4,29 107,35 106.7,46 108.5,54 108.6,57 106.4,70 105.1,73 101.9,78 99,87.7 96,94.9 91.1,111 90.3,115 90,119.5M129.4,8 131,7.1 133,7.7 135,10.2 136.1,14 136.2,18 135.3,22 134,24.6 132,26.4 131,26 130,24.7 128.9,22 128,18.1 128,12 128.4,10 129.4,8M131,37 132,37.7 133,39.3 134.1,42 135.1,46 135.3,72 134.9,77 134,81 132,85.5 131,86.6 130,86.8 128,86.1 125,84.3 123.6,83 122.5,81 122,77 121.9,60 122.4,52 123.6,47 125.6,43 128,39.2 130,37.2 131,37M45.9,56 47,55.5 49,56.1 52,59.3 53.9,64 54.6,70 52.4,94 50,99.4 48,102.2 47,102.9 45,100 43.1,94 40.4,70 40.6,66 41.7,62 44,57.9 45.9,56M42.8,119.5 43.2,115 44,110.8 45,107.8 47,104.7 49,106.9 51.3,111 52.7,115 53.4,119.5M78.7,119.5 78.4,98 75.8,85 75.2,80 75.7,66 75.2,54 75.2,40 75.8,35 78,29 78.5,26 77.2,18 77.2,14 78.3,10 81.5,3 82.1,0M95,0 94.4,22 95.2,25 99.5,33 101.1,38 101.7,45 100.9,57 100.2,62 98,69.1 95.2,81 91.9,88 90.1,95 89,97.9 87,101 85,102.5 84,101.6 83.5,100 79.5,82 79.1,76 79.6,66 77.9,57 77.5,52 77.7,46 78.6,40 79.8,36 82.6,30 83.5,27 83.3,24 81,18.3 80.5,15 81.1,12 84.3,4 85,0M45.7,62 47,61.3 49,62.2 50.2,64 50.9,67 50.8,71 49,81.9 48,85.4 47,86.3 46,85.1 45,81.7 43.2,70 43.8,65 45.7,62M89.8,1 90,0.2 90.7,6 90.3,12 89,15.4 88,16.2 87,16.2 85.8,15 85.8,12 89,2.4 89.8,1M87.7,31 89,30.3 91,30.6 92.4,32 93.6,34 96.6,45 97,51 96.3,58 94,72 93,75.9 92,78.1 90,80.4 88,81.6 86,81.9 85,81.6 84,80.6 82.7,77 82.4,65 80,55.7 79.6,50 80.1,45 81.2,41 86,32.9 87.7,31M85,45 86,45.7 91.3,52 92.3,54 92.7,56 92.4,62 91,70.4 90,72.9 89,73.9 88,74.1 87,73.3 86.5,72 85.4,64 82.2,53 82.2,50 82.8,47 84,45.1 85,45"/>
</svg>
<svg class="pn" style="left:353px;top:162px" width="172" height="119.5" viewBox="0 0 172 119.5">
<rect width="172" height="119.5" fill="#0010d8"/>
<path fill="#0050ff" fill-rule="evenodd" d="M0,0 37,0 36.9,6 37.7,8 39,8.8 42,9.3 45,8.8 47,7.4 48.7,4 49.3,0 60,0 61,4.2 62,3.9 62.9,0 172,0 172,119.5 0,119.5 0,0Z"/>
<path fill="#1e90ff" fill-rule="evenodd" d="M0,0 28.8,0 28.8,11 29.2,15 30,17.6 31,19.1 33,20.1 40,19.5 41.6,20 43,21.2 44.7,25 46,32.6 47.8,39 49.2,46 50,48 50.9,49 53,49.7 55,48.9 56,47.9 59.2,42 63.3,37 66,31.4 69.3,27 73,20.9 75,19.9 81,20.8 82,20.4 83,19.3 84.4,15 86.1,0 172,0 172,119.5 25.7,119.5 25.1,115 24,111.7 23,110 22,109 21,108.6 19.5,109 18,110.5 15.1,116 14.1,119.5 0,119.5 0,0Z"/>
<path fill="#10f4f4" fill-rule="evenodd" d="M0,0 21.3,0 21.4,9 23.8,16 25,22.4 26,25.6 29.7,32 35,44.5 36.7,47 40.7,51 42,53 43,56 44.5,64 45.7,67 47,68.6 49,69.8 54,70.7 60,70.2 62,69.4 63,68.6 64,66.8 66.1,61 71,54.7 74.8,47 76,45.6 79,43.3 80.7,41 81.7,38 83.5,30 86.8,23 88.1,12 89,8.9 91.6,3 92.2,0 172,0 172,111.4 163,109.5 160,110 158,111.8 157,113.7 156.3,116 155.9,119.5 30.8,119.5 30.3,114 28.3,102 27.4,87 26.3,83 25,82 24,82.3 23,83.2 22.1,85 21.9,87 22.3,93 21.6,96 20.3,98 16,102.3 11.5,109 10,110.1 8,110.5 0,107.4 0,0Z"/>
<path fill="#80ff80" fill-rule="evenodd" d="M0,0 16.1,0 14.5,12 15,16.7 16,18.3 19,21 20,22.4 23,31 26.1,37 30,46.6 33.2,53 33.7,55 33.4,56 30,60.7 27,68.2 21.6,73 17.4,79 15.5,83 13.1,90 10,94.3 7.4,99 5,100.6 1,101 0,101 0,0ZM107.8,0 172,0 172,104.7 169.1,104 167,102.9 164.7,101 162.5,98 161.1,94 158.3,78 158.2,73 159.2,67 160.6,63 163.2,58 164.3,54 164.6,49 164.1,45 162,40.9 156,34.1 153,31.6 150,30.4 148,31.3 146.8,33 145.6,36 145.3,39 145.9,42 147.1,45 152.6,53 152.8,56 149.7,65 147.7,74 146.3,84 142.3,98 134.6,118 134.3,119.5 131.5,119.5 130.6,117 125.4,109 122,102.6 120,100.1 118,99.3 117,99.5 116,100.4 114.5,104 113,119.5 37.8,119.5 37.9,104 39.1,96 39.9,87 40.5,85 41.9,83 44,81.2 47,79.7 50,78.9 53,78.8 55,79.2 56.5,80 59.8,84 61,84.4 69.4,79 71,76.8 72.6,71 73.5,69 75,67.8 78,66.5 79.2,65 79.9,62 80.3,55 84.5,46 85.3,43 86.4,35 88,31.7 90,30.2 91,30.2 92,30.7 95.3,36 97,37.5 98,37.2 99,36.1 101,32.5 103,30.4 109.1,28 109.7,27 109.8,25 107.6,16 107.1,12 107.8,0Z"/>
<path fill="#c8f53c" fill-rule="evenodd" d="M0,0 11.4,0 10.4,12 7.9,26 6.7,37 7,56 7.8,61 10.5,72 10.6,77 9.6,82 7.9,86 3.2,93 2,94.1 0,94.9 0,0ZM122.3,0 146.7,0 147.4,10 147.1,14 143.8,26 140.1,34 139.5,37 139.9,43 142.7,54 143.5,59 143.4,64 142.3,74 140.2,85 139.2,94 138.2,98 135,105.6 133,107.9 132,108.2 130,107.4 127.3,104 120.6,90 119.7,87 121.1,75 119.7,64 121.8,53 122.7,44 122.2,28 123.3,14 122.3,0ZM165.9,0 172,0 172,87.8 171,85 170.3,80 168.3,72 168.5,45 166.8,34 167.9,28 167.7,26 165,18.5 164.3,14 164.5,9 165.9,0ZM89.8,49 91,48.5 92,49 93,50.3 97.4,59 100,66.4 101,68 102.3,69 106,70.7 108,72.4 114.6,82 116,85 116.1,86 115.6,88 111,93.4 108,98 106,99.3 101,100.6 99.8,102 99,105 98.8,108 99.3,119.5 40.3,119.5 40.8,110 43.1,97 45,91.4 47,89.4 49,89.2 50,89.8 54,95.9 57,97.6 59,97.8 64,96.8 66,96.9 68,97.8 74,101.7 76,101.3 78,99.1 79.4,96 80,93 79.9,80 83,70.5 85.2,57 87,52.6 89.8,49Z"/>
<path fill="#ffc800" fill-rule="evenodd" d="M0,0 6.6,0 6.6,2 6.2,13 4.3,25 2.4,30 1,31.8 0,32.4 0,0ZM130.7,1 131.2,0 141,0 139.8,11 140.1,23 139.2,26 136.6,31 135.8,36 135.8,42 136.9,55 136.7,64 137,72 135.9,83 135.8,92 135.4,95 134.4,98 133,100 132,100.5 130.6,100 129.1,98 127.1,92 125.9,83 125.4,70 125.8,61 127.8,46 127.9,35 128.6,28 127.1,18 127,11 128,5.7 129,3.4 130.7,1ZM170.9,9 172,8.2 172,17.5 170.3,16 169.7,14 170,11 170.9,9ZM89.2,60 90,59.5 91,59.5 93,61.3 94.3,64 94.8,67 94.6,71 93.6,75 92,77.8 90,78.7 88,78.1 87.1,77 86.2,73 87.2,65 88,62 89.2,60ZM87.9,91 90,90.9 91.9,92 93,93.5 93.9,96 94.9,105 95.2,119.5 80.7,119.5 80.8,111 81.8,105 85,94.3 86,92.5 87.9,91ZM47,100 48,99.6 50,100.4 57,107 63,111 64.4,114 64.9,119.5 42,119.5 42.3,114 43.2,109 45,103.5 47,100Z"/>
<path fill="#ff8000" fill-rule="evenodd" d="M132.1,9 133,8.7 134,8.9 135,9.9 136,13 135.8,18 135,19.7 134,20.5 133,20.5 132,20 131,18.7 130.1,16 130.3,12 131,10.1 132.1,9ZM88.2,103 89,102.3 90,103.3 91,106.5 92,112.9 92.3,119.5 85.2,119.5 86,109.3 87,105.4 88.2,103ZM46.7,108 48,107.1 49,107.1 50,107.5 51.4,109 53.7,114 54.7,119.5 43.6,119.5 44.4,113 45.5,110 46.7,108Z"/>
<path fill="#e81800" fill-rule="evenodd" d="M47.7,114 49,114.3 49.4,115 50.2,117 50.5,119.5 45.7,119.5 46.2,116 47,114.4 47.7,114Z"/>
<path fill="none" stroke="#1a1a1a" stroke-opacity="0.75" stroke-width="0.55" d="M37,0 36.9,6 37.7,8 39,8.8 42,9.3 45,8.8 47,7.4 48.7,4 49.3,0M60,0 61,4.2 62,3.9 62.9,0M28.8,0 28.8,11 29.2,15 30,17.6 31,19.1 33,20.1 40,19.5 41.6,20 43,21.2 44.7,25 46,32.6 47.8,39 49.2,46 50,48 50.9,49 53,49.7 55,48.9 56,47.9 59.2,42 63.3,37 66,31.4 69.3,27 73,20.9 75,19.9 81,20.8 82,20.4 83,19.3 84.4,15 86.1,0M25.7,119.5 25.1,115 24,111.7 23,110 22,109 21,108.6 19.5,109 18,110.5 15.1,116 14.1,119.5M21.3,0 21.4,9 23.8,16 25,22.4 26,25.6 29.7,32 35,44.5 36.7,47 40.7,51 42,53 43,56 44.5,64 45.7,67 47,68.6 49,69.8 54,70.7 60,70.2 62,69.4 63,68.6 64,66.8 66.1,61 71,54.7 74.8,47 76,45.6 79,43.3 80.7,41 81.7,38 83.5,30 86.8,23 88.1,12 89,8.9 91.6,3 92.2,0M172,111.4 163,109.5 160,110 158,111.8 157,113.7 156.3,116 155.9,119.5M30.8,119.5 30.3,114 28.3,102 27.4,87 26.3,83 25,82 24,82.3 23,83.2 22.1,85 21.9,87 22.3,93 21.6,96 20.3,98 16,102.3 11.5,109 10,110.1 8,110.5 0,107.4M16.1,0 14.5,12 15,16.7 16,18.3 19,21 20,22.4 23,31 26.1,37 30,46.6 33.2,53 33.7,55 33.4,56 30,60.7 27,68.2 21.6,73 17.4,79 15.5,83 13.1,90 10,94.3 7.4,99 5,100.6 0,101M172,104.7 169.1,104 167,102.9 164.7,101 162.5,98 161.1,94 158.3,78 158.2,73 159.2,67 160.6,63 163.2,58 164.3,54 164.6,49 164,44.8 162,40.9 155,33.1 152,31 150,30.4 149,30.6 147.4,32 146,34.6 145.4,37 145.4,40 146.2,43 147.6,46 152.1,52 152.8,54 152.8,56 149.7,65 147.7,74 146.3,84 142.3,98 134.6,118 134.3,119.5M37.8,119.5 37.9,104 39.1,96 39.9,87 40.5,85 41.9,83 44,81.2 47,79.7 50,78.9 53,78.8 55,79.2 56.5,80 59.8,84 61,84.4 69.4,79 71,76.8 72.6,71 73.5,69 75,67.8 78,66.5 79.2,65 79.9,62 80.3,55 84.5,46 85.3,43 86.4,35 88,31.7 90,30.2 91,30.2 92,30.7 95.3,36 97,37.5 98,37.2 99,36.1 101,32.5 103,30.4 109.1,28 109.7,27 109.8,25 107.6,16 107.1,12 107.8,0M131.5,119.5 130.6,117 125.4,109 122,102.6 120,100.1 118,99.3 117,99.5 116,100.4 114.5,104 113,119.5M11.4,0 10.4,12 7.9,26 6.7,37 7,56 7.8,61 10.5,72 10.6,77 9.6,82 7.9,86 3.2,93 2,94.1 0,94.9M146.7,0 147.4,10 147.1,14 143.8,26 140.1,34 139.5,37 139.9,43 142.7,54 143.5,59 143.4,64 142.3,74 140.2,85 139.2,94 138.2,98 135,105.6 133,107.9 132,108.2 130,107.4 127.3,104 120.6,90 119.7,87 121.1,75 119.7,64 121.8,53 122.7,44 122.2,28 123.3,14 122.3,0M172,87.8 171,85 170.3,80 168.3,72 168.5,45 166.8,34 167.9,28 167.7,26 165,18.5 164.3,14 164.5,9 165.9,0M40.3,119.5 40.8,110 43.1,97 45,91.4 47,89.4 49,89.2 50,89.8 54,95.9 57,97.6 59,97.8 64,96.8 66,96.9 68,97.8 74,101.7 76,101.3 78,99.1 79.4,96 80,93 79.9,80 83,70.5 85.2,57 86.3,54 88,51 90,48.8 91,48.5 92,49 94,52.1 97.4,59 100,66.4 101,68 102.3,69 106,70.7 108,72.4 114.6,82 115.7,84 116.1,86 114.9,89 111.3,93 108,98 106,99.3 102,100.1 100,101.7 99.2,104 98.9,107 99.3,119.5M6.6,0 6.3,12 4.5,24 3,29 2,30.7 0,32.4M141,0 139.8,11 140.1,23 139.2,26 136.6,31 135.8,36 135.8,42 136.9,55 136.7,64 137,72 135.9,83 135.8,92 135.4,95 134.4,98 133,100 132,100.5 130.6,100 129.1,98 127.1,92 125.9,83 125.4,69 125.9,60 127.8,46 127.9,35 128.6,28 127.1,18 127,11 128.2,5 131.2,0M172,17.5 170.3,16 169.7,13 170.4,10 171,8.9 172,8.2M89.2,60 90,59.5 91,59.5 93,61.3 94.3,64 94.8,67 94.6,71 93.6,75 92,77.8 90,78.7 88,78.1 87.1,77 86.2,73 87.2,65 88,62 89.2,60M42,119.5 42.5,113 43.8,107 46,101.3 47,100 48,99.6 50,100.4 57,107 63,111 64.4,114 64.9,119.5M80.7,119.5 80.9,110 82.6,102 85.7,93 87,91.5 89,90.8 91,91.3 92,92.1 93.2,94 94,96.5 94.9,105 95.2,119.5M132.1,9 133,8.7 134,8.9 135,9.9 136,13 135.8,18 135,19.7 134,20.5 133,20.5 132,20 131,18.7 130.1,16 130.3,12 131,10.1 132.1,9M43.6,119.5 44,115 45,111 47,107.7 48,107.1 49,107.1 51,108.5 52.6,111 54.3,116 54.7,119.5M85.2,119.5 86.1,109 87,105.4 88,103.1 89,102.3 90,103.3 91.1,107 92,112.9 92.3,119.5M45.7,119.5 46.2,116 47,114.4 48,113.8 49,114.3 49.9,116 50.5,119.5"/>
</svg>
<svg class="pn" style="left:160.5px;top:305px" width="172.3" height="118.7" viewBox="0 0 172.3 118.7">
<rect width="172.3" height="118.7" fill="#000080"/>
<path fill="#000098" fill-rule="evenodd" d="M0,0 172.3,0 172.3,118.7 0,118.7 0,0Z"/>
<path fill="#0018e8" fill-rule="evenodd" d="M0,0 172.3,0 172.3,66.2 171,66.4 169,67.6 167.1,70 164.2,79 161.6,84 161.1,86 162.6,94 164.1,98 166,99 172.3,98.9 172.3,118.7 162.9,118.7 162,110.7 161,108.3 160,107.8 155,109 152,111 150.5,114 149.8,118.7 20.5,118.7 22.1,105 24.9,95 25.4,92 25,68.7 24.6,67 23.3,65 22,64 20,63.3 17,62.9 9,62.9 0,62.3 0,0Z"/>
<path fill="#1e84ff" fill-rule="evenodd" d="M0,0 172.3,0 172.3,40.3 165,39 163,39.2 161,39.9 159.1,42 156.3,49 152.2,55 151.1,61 150.5,83 149.2,86 145,89.2 143.3,92 142.8,95 142.9,103 142.5,107 141.4,110 138.6,115 137.7,118.7 30.3,118.7 30.9,116 35,109 36.1,105 37,98 37.3,66 36.8,55 36.9,47 36.3,43 35,40.7 34,40 32,39.5 11,39.4 7.5,41 3,46.9 1.5,48 0,48.4 0,0Z"/>
<path fill="#10f4f4" fill-rule="evenodd" d="M0,0 135.1,0 137,7.4 140.2,26 140.1,35 140.6,46 140.2,51 137,65.2 135.7,74 135.7,79 137.4,98 137.4,102 136.3,106 132.7,114 131.7,118.7 39.7,118.7 40.9,96 40.9,64 41.8,53 42,43 43.3,33 43.1,29 42.3,25 35.9,13 34,10.5 31,9.3 25,9.5 23,9 21,7.9 17,4.3 16,4 13,5 10,7.4 8,11 5,20 3,22.4 0,23.5 0,0Z"/>
<path fill="#80ff80" fill-rule="evenodd" d="M77.9,1 78,0 108.3,0 109,5 110,6.6 113,9.3 114,11 116.3,21 117,22.4 118,23 120,22.8 123,20.6 125,17.6 127.4,12 129,9.6 131,8.7 133,9.8 134.5,13 135.3,18 135.7,50 134.6,58 131.1,69 129.2,77 128.3,79 127,80.2 125,80.2 120,79 118,79.4 116,81.6 113.2,87 109,91.4 105.7,97 102.5,101 101.1,104 100.1,110 99.8,118.7 70.1,118.7 69.9,115 69,112.1 68,110.9 66,110.2 58,111.2 55.6,112 53.8,114 53.1,116 52.7,118.7 43.6,118.7 44.2,105 43.5,91 43.3,66 44,61 47.1,53 47.7,43 48.6,41 50,39.1 54,35.9 57.7,32 62,28.7 63.3,27 66.6,20 71.5,16 77,3.9 77.9,1Z"/>
<path fill="#f0ff10" fill-rule="evenodd" d="M81.8,0 98.4,0 100.4,7 102.5,17 104,19.5 106.6,22 107.5,24 107.6,36 108.2,38 111.1,44 110.9,46 108.7,50 107.6,53 107.3,62 106.7,65 102,72.8 99.7,79 98.9,85 99.7,92 99.6,94 96.5,107 93.4,116 92.9,118.7 83.2,118.7 82.8,115 81.7,111 80,106.9 77.6,103 76,101.3 74,100.1 68,99.3 65,97.7 56,82.8 55,81.7 54,81.3 53,81.5 50.9,84 50.2,86 49,93.1 48,93.4 47.1,89 46.1,69 47,64.2 48,63.1 49,63 50,63.5 53,66.7 54,67.1 55,66.8 56,65.7 59,59.5 63,54.9 67,48.5 68.5,47 72,44.6 73.3,43 74.8,39 77.3,27 77.5,14 81.1,4 81.8,0Z"/>
<path fill="#ffa000" fill-rule="evenodd" d="M85,1 85,0 93.9,0 94.6,4 98,12.5 98.8,17 99.9,28 99.3,51 99.7,54 101.8,61 101.3,65 97.9,74 96.1,81 95.5,86 95.1,96 94.1,102 92,106.6 90,108.1 88,107.5 86,105.1 75.8,87 73.8,81 72.9,75 73.1,65 72.2,56 72.7,54 76,47.5 77.1,44 80.4,26 80.8,15 84.3,5 85,1Z"/>
<path fill="#ff3000" fill-rule="evenodd" d="M89.2,8 90,7.8 91,8.7 93,11.3 94.4,14 95.2,17 95,52 95.4,56 96.9,64 96.6,67 93.6,81 92,94.6 91,97.7 90,98.9 89,99.1 87,97.6 85,94.4 79.7,83 78.3,79 77.2,73 77,59 77.3,55 79.6,45 84.2,17 86,12.5 88,9.2 89.2,8Z"/>
<path fill="#a80000" fill-rule="evenodd" d="M88.7,21 90,21 91,22.4 91.8,27 91.8,53 92.5,66 92,73.1 90,84.4 89,87.1 88,87.7 87,87 86,85.6 82,77 80.7,71 80.5,64 81,56.2 84,35.7 86.7,24 88,21.5 88.7,21Z"/>
<path fill="none" stroke="#1a1a1a" stroke-opacity="0.75" stroke-width="0.55" d="M172.3,66.2 171,66.4 169,67.6 167.1,70 164.2,79 161.6,84 161.1,86 162.6,94 164.1,98 166,99 172.3,98.9M20.5,118.7 22.1,105 24.9,95 25.4,92 25.2,71 24.6,67 23,64.7 21,63.6 19,63.1 0,62.3M162.9,118.7 162,110.7 161,108.3 160,107.8 155,109 152,111 150.5,114 149.8,118.7M172.3,40.3 165,39 163,39.2 161,39.9 159.1,42 156.3,49 152.2,55 151.1,61 150.5,83 149.2,86 145,89.2 143.3,92 142.8,95 142.9,103 142.5,107 141.4,110 138.6,115 137.7,118.7M30.3,118.7 30.9,116 35,109 36.1,105 37,98 37.3,66 36.8,55 36.8,46 36,42.2 35,40.7 34,40 32,39.5 11,39.4 7.5,41 3,46.9 1.5,48 0,48.4M135.1,0 137,7.4 140.2,26 140.1,35 140.6,46 140.2,51 137,65.2 135.7,74 135.7,79 137.4,98 137.4,102 136.3,106 132.7,114 131.7,118.7M39.7,118.7 40.9,96 40.9,64 41.8,53 42,43 43.3,33 43,28 41.9,24 35.9,13 34,10.5 31,9.3 25,9.5 23,9 21,7.9 17,4.3 16,4 13,5 10,7.4 8,11 5,20 3,22.4 0,23.5M108.3,0 109,5 110,6.6 113,9.3 114,11 116.3,21 117,22.4 118,23 120,22.8 123,20.6 125,17.6 127.4,12 129,9.6 130,8.9 132,9 133.7,11 134.9,15 135.3,19 135.6,51 134.3,59 131.1,69 128.9,78 128,79.5 127,80.2 125,80.2 121,79.1 119,79.1 118,79.4 116.4,81 113.2,87 109,91.4 106,96.5 101.9,102 101,104.4 100.3,108 99.8,118.7M43.6,118.7 44.2,105 43.5,91 43.3,66 44,61 47.1,53 47.7,43 48.6,41 50,39.1 54,35.9 57.7,32 62,28.7 63.3,27 66.6,20 71.5,16 77,3.9 78,0M70.1,118.7 69.9,115 69,112.1 68,110.9 66,110.2 58,111.2 55.6,112 53.8,114 53.1,116 52.7,118.7M98.4,0 100.4,7 102.5,17 104,19.5 106.6,22 107.5,24 107.6,36 108.6,39 110.9,43 111.1,45 108.2,51 107.6,53 107.3,62 106.7,65 102,72.8 99.7,79 98.9,85 99.7,92 99.6,94 96.5,107 93.4,116 92.9,118.7M83.2,118.7 82.8,115 81.7,111 80,106.9 77.6,103 76,101.3 74,100.1 68,99.3 65,97.7 56,82.8 55,81.7 54,81.3 53,81.5 51.5,83 50.2,86 49,93.1 48,93.4 47,88 46.1,70 46.7,65 48,63.1 49,63 50,63.5 53,66.7 54,67.1 55,66.8 56,65.7 59,59.5 63,54.9 67,48.5 68.5,47 72,44.6 73.9,42 75,38.2 77.3,27 77.5,14 81.1,4 81.8,0M93.9,0 94.6,4 97.9,12 98.8,17 99.9,28 99.3,51 99.7,54 101.4,59 101.8,62 101.3,65 97.9,74 96.1,81 95.5,86 95.1,96 94.1,102 92,106.6 90,108.1 88,107.5 86,105.1 75.8,87 73.8,81 72.9,75 73.1,65 72.2,56 72.7,54 76,47.5 77.1,44 80.4,26 80.8,15 84.3,5 85,0M89.2,8 90,7.8 91,8.7 93,11.3 94.4,14 95.2,17 95,52 95.4,56 96.9,64 96.6,67 93.6,81 92,94.6 91,97.7 90,98.9 89,99.1 87,97.6 85,94.4 79.7,83 78.3,79 77.2,73 77,59 77.3,55 79.6,45 84.2,17 86,12.5 88,9.2 89.2,8M88.7,21 90,21 91,22.4 91.8,27 91.8,53 92.5,66 92,73.1 90,84.4 89,87.1 88,87.7 87,87 86,85.6 82,77 80.7,71 80.5,64 81,56.2 84,35.7 86.7,24 88,21.5 88.7,21"/>
</svg>
<svg class="pn" style="left:349.5px;top:304px" width="172" height="118" viewBox="0 0 172 118">
<rect width="172" height="118" fill="#0048f0"/>
<path fill="#1e90ff" fill-rule="evenodd" d="M0,0 46.1,0 46.4,4 47.4,7 53.8,16 56,17.9 58,18.9 61,19.5 64,19.7 71,19 72.7,18 74,16.7 75.9,13 77.3,9 78.4,4 78.8,0 172,0 172,118 0,118 0,0Z"/>
<path fill="#00dcff" fill-rule="evenodd" d="M0,0 36.1,0 35.2,10 35.5,13 36.3,15 37.2,16 39,16.9 44,18.2 46,19.2 55,28 56.3,30 56.9,32 58,40.4 59,44 61,46 64,46.8 66,46.4 68,44.3 70,40 73,30.6 77.5,23 82.4,7 83.6,0 172,0 172,114.3 170,113.8 165,111.5 162,111 160,111.5 157.6,113 154,116 152.8,118 129.3,118 128.3,116 127.1,115 125,114.1 123,113.9 120.1,115 119.3,116 118.6,118 18.7,118 17.9,115 17,114.2 16,113.9 14,114.2 12.4,115 11,116.5 10.5,118 0,118 0,0Z"/>
<path fill="#38ffc8" fill-rule="evenodd" d="M0,0 28.7,0 28.6,21 29,24.8 29.8,27 31,28.2 32,28.3 33,27.9 37,24.5 39,23.9 41,24.2 42.2,25 43.7,27 46,33.2 49.2,39 50,42.5 51.1,53 52.8,58 54,59.6 56,60.9 59,61.7 62,61.8 66,61.3 69,59.9 70.8,58 74,53.1 75,52.1 76,52.3 78,53.6 79,53.7 80,53.3 80.8,52 80.8,49 80,47.2 77.8,45 77.4,44 77.5,42 80,33.7 82.3,23 84,17.3 86,12.7 90.4,6 91.4,3 91.6,0 172,0 172,108 169,107.2 164,104.7 161,104.3 154,108.1 152,108.3 148,107.6 146,107.8 144,109 140,112.9 139,113.5 137,113.8 134,113.1 119,107.2 117,108 111.1,114 109.7,116 109.2,118 33.4,118 33,107 32.1,103 31,100.7 30,99.5 28,98.7 22,98.2 19.7,99 15.1,107 8.4,113 7,115.4 6.3,118 0,118 0,0Z"/>
<path fill="#90ff70" fill-rule="evenodd" d="M0,0 21.7,0 21.5,41 22.1,44 23,45.8 26.8,50 27.9,52 28.9,57 28.6,62 27.7,66 26.4,69 22.4,75 19.7,84 16,89.2 15.2,91 14.4,94 13.8,100 13,103 11,105.9 4.8,112 3,115 2.2,118 0,118 0,0ZM99.6,0 172,0 172,96.5 170,95.7 167,93.4 164.9,91 162,86.3 161,85.1 160,84.8 154.5,88 152.3,90 151.2,92 150,96 148.8,98 147.2,99 144,99.5 142,100.5 138,105.5 135,107.4 131,107.6 127,106.5 124,104.5 119,98.9 117,98.3 116,98.5 115,99.5 112.9,104 111,106.4 109,107.4 105,108.5 103.2,110 101.8,113 101.1,118 37,118 37,105 34.7,92 34.5,83 36.5,64 40.8,48 42,47.4 43,47.7 45,49.4 46,51 48.8,61 53.1,69 55,76.3 56,78.4 57,78.9 63,78.1 71,78.6 73,78.3 75,77.2 76.2,76 77,74 76.2,66 76.6,63 77.7,61 82,57.1 83,55.5 83.8,53 84.2,49 83.9,39 84.1,34 84.8,29 86,25 87,22.9 89,20.6 91,20.2 96,22.8 97,22.9 98.2,22 99.5,19 100.2,16 100.5,12 99.6,0Z"/>
<path fill="#c8f438" fill-rule="evenodd" d="M0,0 13.6,0 13.7,38 13.3,57 14.1,72 13.5,77 10.3,88 9.8,92 9.8,98 9.2,101 8.2,103 6,105.2 2,108 0,108.7 0,0ZM115.2,0 143.9,0 143.4,13 144.4,27 144.5,52 143.5,66 143.3,82 142.5,87 136.2,101 134,103 132,103.7 129,103.2 127,101.8 125.7,100 123,93.6 119,89.7 117,88.4 115,87.7 113,87.8 111,88.5 108.7,91 106,97.4 105,98.3 101,100.1 99,103 97.1,111 96.6,118 79.3,118 78.7,106 79.1,95 78.7,86 79.3,83 81.4,77 81.7,74 80.4,67 80.4,65 81,63 84.3,58 85.6,54 87.2,44 87,36 87.6,32 89,29.2 90,28.6 91,28.6 92,29.3 93.6,32 94.2,35 93.9,43 95,52 95.4,64 96.5,67 98,69.5 99,70 100,69.6 101,68.5 102.8,65 103.6,62 104,57 103.7,46 107.2,34 109,30.8 111,29.6 114,28.7 115.1,28 116,26.9 117,24 117.2,18 115.6,7 115.2,0ZM164.2,0 172,0 172,89 169,87.7 166.9,85 165.5,81 164.5,75 164.4,56 165.3,44 164.4,32 164.2,0ZM42,69 43,68.3 45,68.4 47,69.7 48.1,71 50,75 52,84 56.2,94 58,96.8 62,99.3 64.2,102 65,105 65.1,108 64.1,118 39.5,118 39.7,105 37.9,92 37.7,85 39,77 40.9,71 42,69Z"/>
<path fill="#ffe800" fill-rule="evenodd" d="M0,0 8.8,0 8.9,43 8.7,53 7.6,65 7.5,74 6.4,83 5,89.2 3,94.5 2,96 0,97 0,0ZM120.5,0 139.8,0 139.9,12 141.2,27 141.3,51 139.9,66 139.6,80 138.7,85 135.7,95 134,98 132,99.2 130,98.6 128.7,97 126,90.6 121.8,84 120.8,80 120.5,37 120.9,32 122.5,24 122.7,20 122.4,14 120.5,0ZM168.6,0 172,0 172,83.2 171,82.5 170.1,81 169.6,78 169.8,57 169.4,43 170,28 168.4,14 168.6,0ZM89.3,50 90,49.4 91,49.8 92.3,53 91.9,64 95.2,74 96.3,79 96.9,85 96.7,91 94.6,109 94.2,118 83.1,118 82.4,87 84.3,74 84,66 84.4,64 86.6,59 88,52.9 89.3,50ZM43.4,79 45,78.1 46,78.4 47,79.6 52.2,93 53.9,104 53.7,118 41.6,118 41.9,105 40.6,93 40.6,88 41.4,83 42.1,81 43.4,79Z"/>
<path fill="#ffa800" fill-rule="evenodd" d="M0,0 5.4,0 5.5,41 5.1,49 4.1,54 2,57.9 0,59 0,0ZM127.3,0 134.7,0 137,10.2 138.4,24 138.5,52 136.9,76 136.1,81 134,88.9 133,91.4 132,92.1 131,91.6 130,90 125.4,81 124.6,77 124,67 123.7,36 126.1,24 126.1,10 127.3,0ZM88.6,70 89,69.7 90,70.2 92,73.2 93.1,77 93.8,82 93.7,91 91.8,108 91.8,118 86,118 86.2,106 85,86 87,73.5 88,70.5 88.6,70ZM45,88 46,87.8 47,88.6 48.8,92 49.6,95 50.1,100 50.1,118 44.1,118 44.5,106 43.5,93 44,89.7 45,88Z"/>
<path fill="#ff6000" fill-rule="evenodd" d="M130.8,10 132,9.4 133,10 134.2,12 135.1,16 135.5,23 135.2,53 134.4,71 134,73.9 133,76.7 132,77.9 131,78.2 130,77.7 128.9,76 128,72.8 127.5,69 127.2,62 127.4,47 127,38 127.4,34 129.3,25 129.2,14 130,11.1 130.8,10ZM0,36 0.4,40 0,43.5 0,36ZM88.9,83 89,82.5 90,82.3 90.5,86 90,91.4 89,91.9 88.4,88 88.9,83Z"/>
<path fill="none" stroke="#1a1a1a" stroke-opacity="0.75" stroke-width="0.55" d="M46.1,0 46.4,4 47.4,7 53.8,16 56,17.9 58,18.9 61,19.5 64,19.7 71,19 72.7,18 74,16.7 75.9,13 77.3,9 78.4,4 78.8,0M36.1,0 35.2,10 35.5,13 36.3,15 37.2,16 39,16.9 44,18.2 46,19.2 55,28 56.3,30 56.9,32 58,40.4 59,44 61,46 64,46.8 66,46.4 68,44.3 70,40 73,30.6 77.5,23 82.4,7 83.6,0M172,114.3 164,111.2 161,111.1 159,112 156.3,114 154,116 152.8,118M18.7,118 17.9,115 17,114.2 16,113.9 14,114.2 12.4,115 11,116.5 10.5,118M129.3,118 128.3,116 127.1,115 125,114.1 123,113.9 120.1,115 119.3,116 118.6,118M28.7,0 28.6,21 29,24.8 29.8,27 31,28.2 32,28.3 33,27.9 37,24.5 39,23.9 41,24.2 42.2,25 43.7,27 46,33.2 49.2,39 50,42.5 51.1,53 52.8,58 54,59.6 56,60.9 59,61.7 62,61.8 66,61.3 69,59.9 70.8,58 74,53.1 75,52.1 76,52.3 78,53.6 79,53.7 80,53.3 80.8,52 80.8,49 80,47.2 77.8,45 77.4,44 77.5,42 80,33.7 82.3,23 84,17.3 86,12.7 90.4,6 91.4,3 91.6,0M172,108 169,107.2 164,104.7 161,104.3 154,108.1 152,108.3 148,107.6 146,107.8 144,109 140,112.9 139,113.5 137,113.8 134,113.1 119,107.2 117,108 111.1,114 109.7,116 109.2,118M33.4,118 33,107 32.1,103 31,100.7 30,99.5 28,98.7 22,98.2 19.7,99 15.1,107 8.4,113 7,115.4 6.3,118M21.7,0 21.5,41 22.5,45 26.8,50 28.3,53 28.9,57 28.4,63 26.9,68 22.4,75 19.7,84 16,89.2 15.2,91 14.4,94 13.8,100 13,103 11,105.9 4.8,112 3,115 2.2,118M172,96.5 170,95.7 167,93.4 165,91.1 161,85.1 160,84.8 159,85.1 154,88.4 152.3,90 151.2,92 150,96 148.8,98 147.2,99 144,99.5 142,100.5 138,105.5 135,107.4 131,107.6 127,106.5 124,104.5 119,98.9 117,98.3 116,98.5 115,99.5 112.9,104 111,106.4 109,107.4 105,108.5 103.2,110 101.8,113 101.1,118M37,118 37,105 34.7,92 34.5,83 36.5,64 40.8,48 42,47.4 43,47.7 45,49.4 46,51 48.8,61 53.1,69 55,76.3 56,78.4 57,78.9 63,78.1 71,78.6 73,78.3 75,77.2 76.2,76 77,74 76.2,66 76.6,63 77.7,61 82,57.1 83,55.5 83.8,53 84.2,49 83.9,39 84.1,34 84.8,29 86,25 87,22.9 89,20.6 91,20.2 96,22.8 97,22.9 98.2,22 99.5,19 100.2,16 100.5,12 99.6,0M13.6,0 13.7,38 13.3,56 14.1,71 13.9,75 10.3,88 9.8,92 9.8,98 9.2,101 8.2,103 6,105.2 2,108 0,108.7M143.9,0 143.4,13 144.4,27 144.4,53 143.5,66 143.3,82 142.8,86 142.1,88 136.2,101 134,103 131,103.7 129,103.2 127,101.8 125.7,100 123,93.6 119,89.7 117,88.4 115,87.7 113,87.8 111,88.5 108.7,91 106,97.4 105,98.3 101,100.1 99,103 97.1,111 96.6,118M172,89 169,87.7 166.9,85 165.5,81 164.5,75 164.4,56 165.3,44 164.4,32 164.2,0M39.5,118 39.7,105 37.8,91 37.8,84 39,77.1 41,70.7 42,69 43,68.3 44,68.2 47,69.7 49,72.4 50,75.1 52,84 57,95.6 59,97.6 62.8,100 64.2,102 65,105 65.1,108 64.1,118M79.3,118 78.7,106 79.1,95 78.7,86 79.3,83 81.4,77 81.7,74 80.4,67 80.4,65 81,63 84.3,58 85.6,54 87.2,44 87,36 87.6,32 89,29.2 90,28.6 91,28.6 92,29.3 93.6,32 94.2,35 93.9,43 95,52 95.4,64 96.5,67 98,69.5 99,70 100,69.6 101,68.5 102.8,65 103.6,62 104,57 103.7,46 107.2,34 109,30.8 111,29.6 114,28.7 115.1,28 116,26.9 117,24 117.2,18 115.6,7 115.2,0M8.8,0 8.8,49 7.6,65 7.4,75 6,85 4.4,91 3,94.5 2,96 0,97M139.8,0 139.9,12 141.2,27 141.3,51 139.9,66 139.6,80 138.7,85 135.7,95 134,98 132,99.2 130,98.6 128.7,97 126,90.6 121.8,84 120.8,80 120.5,37 120.9,32 122.5,24 122.7,20 122.4,14 120.5,0M172,83.2 171,82.5 170.1,81 169.6,78 169.8,57 169.4,43 170,28 168.4,14 168.6,0M41.6,118 41.9,105 40.6,93 40.7,87 42,81.3 43,79.4 44,78.4 45,78.1 46,78.4 47,79.6 48,81.7 51.2,90 52.6,95 54,106 53.7,118M83.1,118 82.4,87 84.3,74 84,66 84.4,64 86.6,59 88.3,52 89,50.3 90,49.4 91.1,50 92.3,53 91.9,64 95.5,75 96.9,84 96.7,91 94.6,109 94.2,118M5.4,0 5.2,48 4.4,53 3.3,56 2,57.9 0,59M134.7,0 137,10.2 138.3,22 138.5,52 136.7,78 134,88.9 133,91.4 132,92.1 131,91.6 130,90 125.4,81 124.6,77 124,67 123.7,36 126.1,24 126.1,10 127.3,0M44.1,118 44.5,106 43.5,93 44.3,89 45,88 46,87.8 48,90.1 49.2,93 49.8,96 50.1,118M86,118 86.2,106 85,90 85,85 87,73.5 88,70.5 89,69.7 90,70.2 91,71.3 92.3,74 93.3,78 93.9,83 93.6,92 91.9,107 91.8,118M130.8,10 132,9.4 133,10 134.2,12 135.1,16 135.5,23 135.2,53 134.4,71 134,73.9 133,76.7 132,77.9 131,78.2 130,77.7 128.9,76 128,72.8 127.5,69 127.2,62 127.4,47 127,38 127.4,34 129.3,25 129.2,14 130,11.1 130.8,10M0,35.2 0.4,40 0,43.5M88.9,83 89,82.5 90,82.3 90.5,86 90,91.4 89,91.9 88.4,88 88.9,83"/>
</svg>
<svg class="pn" style="left:0;top:0" width="567" height="439" viewBox="0 0 567 439">
<defs>
<filter id="bl3" x="-100" y="-100" width="600" height="700" filterUnits="userSpaceOnUse"><feGaussianBlur stdDeviation="3"/></filter>
<filter id="bl5" x="-100" y="-100" width="600" height="700" filterUnits="userSpaceOnUse"><feGaussianBlur stdDeviation="5"/></filter>
<filter id="bl8" x="-100" y="-100" width="600" height="700" filterUnits="userSpaceOnUse"><feGaussianBlur stdDeviation="8"/></filter>
<filter id="bl12" x="-100" y="-100" width="600" height="700" filterUnits="userSpaceOnUse"><feGaussianBlur stdDeviation="12"/></filter>
<filter id="bl18" x="-100" y="-100" width="600" height="700" filterUnits="userSpaceOnUse"><feGaussianBlur stdDeviation="18"/></filter>
<linearGradient id="cg1" x1="0" y1="0" x2="1" y2="0.3"><stop offset="0" stop-color="#1878ff"/><stop offset="0.5" stop-color="#229cff"/><stop offset="0.8" stop-color="#30d8f0"/><stop offset="1" stop-color="#60f0c0"/></linearGradient>
<linearGradient id="cg2" x1="0" y1="0" x2="1" y2="0.5"><stop offset="0" stop-color="#0848f0"/><stop offset="0.5" stop-color="#1a80ff"/><stop offset="1" stop-color="#30c8f8"/></linearGradient>
<linearGradient id="cg3" x1="0" y1="0" x2="1" y2="0.2"><stop offset="0" stop-color="#0020d0"/><stop offset="0.7" stop-color="#0040f8"/><stop offset="1" stop-color="#1070ff"/></linearGradient>
</defs>
<g transform="translate(70,15) scale(0.2616)">
<clipPath id="cl1"><path d="M25.0,120.0C26.7,116.3 28.3,106.7 35.0,98.0C41.7,89.3 54.2,76.3 65.0,68.0C75.8,59.7 88.3,53.0 100.0,48.0C111.7,43.0 122.5,38.5 135.0,38.0C147.5,37.5 163.3,40.5 175.0,45.0C186.7,49.5 195.0,55.8 205.0,65.0C215.0,74.2 225.8,86.7 235.0,100.0C244.2,113.3 252.2,128.3 260.0,145.0C267.8,161.7 276.0,180.8 282.0,200.0C288.0,219.2 293.0,240.8 296.0,260.0C299.0,279.2 300.3,297.5 300.0,315.0C299.7,332.5 297.3,351.2 294.0,365.0C290.7,378.8 284.8,390.8 280.0,398.0C275.2,405.2 267.5,406.3 265.0,408.0L265.0,408.0C258.3,405.5 238.3,398.8 225.0,393.0C211.7,387.2 198.3,379.7 185.0,373.0C171.7,366.3 158.3,358.8 145.0,353.0C131.7,347.2 116.7,342.0 105.0,338.0C93.3,334.0 84.2,331.7 75.0,329.0C65.8,326.3 54.2,323.2 50.0,322.0L50.0,322.0C50.8,318.0 52.3,307.0 55.0,298.0C57.7,289.0 62.5,276.8 66.0,268.0C69.5,259.2 75.0,250.3 76.0,245.0C77.0,239.7 70.3,241.2 72.0,236.0C73.7,230.8 85.3,222.0 86.0,214.0C86.7,206.0 80.3,196.5 76.0,188.0C71.7,179.5 66.0,171.0 60.0,163.0C54.0,155.0 45.8,147.2 40.0,140.0C34.2,132.8 27.5,123.3 25.0,120.0Z"/></clipPath>
<g clip-path="url(#cl1)">
<rect x="-20" y="-20" width="400" height="500" fill="#38ecd8"/>
<g filter="url(#bl18)">
<path d="M200.0,120.0C202.5,133.3 212.5,186.7 215.0,200.0" fill="none" stroke="#a0f860" stroke-width="50" stroke-linecap="round" stroke-linejoin="round" opacity="1"/>
<path d="M180.0,215.0C183.3,227.5 196.7,259.2 200.0,290.0C203.3,320.8 200.0,381.7 200.0,400.0" fill="none" stroke="#eef420" stroke-width="105" stroke-linecap="round" stroke-linejoin="round" opacity="1"/>
<ellipse cx="55" cy="290" rx="40" ry="70" transform="rotate(10 55 290)" fill="#1060ff" opacity="1"/>
<ellipse cx="60" cy="160" rx="40" ry="40" transform="rotate(0 60 160)" fill="#20d0ff" opacity="1"/>
</g>
<g filter="url(#bl8)">
<path d="M140.0,225.0C141.7,237.5 148.3,287.5 150.0,300.0" fill="none" stroke="#ffa000" stroke-width="16" stroke-linecap="round" stroke-linejoin="round" opacity="1"/>
<path d="M205.0,200.0C208.3,215.0 220.0,258.3 225.0,290.0C230.0,321.7 233.3,373.3 235.0,390.0" fill="none" stroke="#ffb000" stroke-width="30" stroke-linecap="round" stroke-linejoin="round" opacity="1"/>
<ellipse cx="60" cy="295" rx="20" ry="42" transform="rotate(8 60 295)" fill="#0030ff" opacity="1"/>
<path d="M178.0,76.0C183.7,81.3 201.7,95.7 212.0,108.0C222.3,120.3 235.3,143.0 240.0,150.0" fill="none" stroke="#ff3000" stroke-width="24" stroke-linecap="round" stroke-linejoin="round" opacity="1"/>
<path d="M240.0,150.0C244.3,162.5 259.2,200.8 266.0,225.0C272.8,249.2 278.0,273.3 281.0,295.0C284.0,316.7 285.2,337.2 284.0,355.0C282.8,372.8 275.7,394.2 274.0,402.0" fill="none" stroke="#ff3000" stroke-width="42" stroke-linecap="round" stroke-linejoin="round" opacity="1"/>
</g>
<g filter="url(#bl5)">
<path d="M238.0,145.0C241.0,152.5 250.3,173.3 256.0,190.0C261.7,206.7 268.2,229.2 272.0,245.0C275.8,260.8 277.8,278.3 279.0,285.0" fill="none" stroke="#8c0000" stroke-width="17" stroke-linecap="round" stroke-linejoin="round" opacity="1"/>
<path d="M280.0,310.0C280.5,316.7 282.5,343.3 283.0,350.0" fill="none" stroke="#b00000" stroke-width="10" stroke-linecap="round" stroke-linejoin="round" opacity="1"/>
</g>
<g filter="url(#bl3)"><ellipse cx="98" cy="93" rx="80" ry="38" transform="rotate(-23 98 93)" fill="url(#cg1)"/></g>
</g></g>
<g transform="translate(70,160) scale(0.2616)">
<clipPath id="cl2"><path d="M20.0,132.0C22.0,127.5 25.0,115.0 32.0,105.0C39.0,95.0 50.7,81.5 62.0,72.0C73.3,62.5 87.0,54.2 100.0,48.0C113.0,41.8 127.0,36.0 140.0,35.0C153.0,34.0 166.7,37.2 178.0,42.0C189.3,46.8 198.0,54.3 208.0,64.0C218.0,73.7 229.0,86.0 238.0,100.0C247.0,114.0 254.3,130.5 262.0,148.0C269.7,165.5 278.0,186.0 284.0,205.0C290.0,224.0 295.0,243.7 298.0,262.0C301.0,280.3 302.3,297.8 302.0,315.0C301.7,332.2 299.0,351.2 296.0,365.0C293.0,378.8 288.3,390.5 284.0,398.0C279.7,405.5 272.3,408.0 270.0,410.0L270.0,410.0C263.0,407.7 242.0,401.3 228.0,396.0C214.0,390.7 199.8,384.0 186.0,378.0C172.2,372.0 158.5,365.3 145.0,360.0C131.5,354.7 117.2,349.8 105.0,346.0C92.8,342.2 82.0,339.7 72.0,337.0C62.0,334.3 49.5,331.2 45.0,330.0L45.0,330.0C46.2,325.8 48.8,314.0 52.0,305.0C55.2,296.0 60.3,284.8 64.0,276.0C67.7,267.2 73.3,257.5 74.0,252.0C74.7,246.5 66.3,248.3 68.0,243.0C69.7,237.7 83.0,228.0 84.0,220.0C85.0,212.0 78.3,203.0 74.0,195.0C69.7,187.0 64.0,179.5 58.0,172.0C52.0,164.5 44.3,156.7 38.0,150.0C31.7,143.3 23.0,135.0 20.0,132.0Z"/></clipPath>
<g clip-path="url(#cl2)">
<rect x="-20" y="-20" width="400" height="500" fill="#34e6e0"/>
<g filter="url(#bl18)">
<path d="M190.0,150.0C196.7,163.3 220.0,201.7 230.0,230.0C240.0,258.3 247.5,290.0 250.0,320.0C252.5,350.0 245.8,395.0 245.0,410.0" fill="none" stroke="#b8f850" stroke-width="60" stroke-linecap="round" stroke-linejoin="round" opacity="1"/>
<ellipse cx="55" cy="305" rx="36" ry="60" transform="rotate(10 55 305)" fill="#1468ff" opacity="1"/>
<path d="M150.0,340.0C158.3,346.7 183.3,370.0 200.0,380.0C216.7,390.0 241.7,396.7 250.0,400.0" fill="none" stroke="#c8f040" stroke-width="30" stroke-linecap="round" stroke-linejoin="round" opacity="1"/>
</g>
<g filter="url(#bl8)">
<ellipse cx="135" cy="287" rx="13" ry="30" transform="rotate(10 135 287)" fill="#f4e020" opacity="1"/>
<ellipse cx="60" cy="312" rx="18" ry="32" transform="rotate(8 60 312)" fill="#0838ff" opacity="1"/>
<path d="M172.0,80.0C178.8,86.7 201.2,104.7 213.0,120.0C224.8,135.3 234.0,153.0 243.0,172.0C252.0,191.0 260.7,214.0 267.0,234.0C273.3,254.0 278.3,272.7 281.0,292.0C283.7,311.3 284.7,331.7 283.0,350.0C281.3,368.3 273.0,393.3 271.0,402.0" fill="none" stroke="#ffc020" stroke-width="44" stroke-linecap="round" stroke-linejoin="round" opacity="1"/>
<path d="M172.0,80.0C178.8,86.7 201.2,104.7 213.0,120.0C224.8,135.3 234.0,153.0 243.0,172.0C252.0,191.0 260.7,214.0 267.0,234.0C273.3,254.0 278.3,272.7 281.0,292.0C283.7,311.3 284.7,331.7 283.0,350.0C281.3,368.3 273.0,393.3 271.0,402.0" fill="none" stroke="#ff2800" stroke-width="24" stroke-linecap="round" stroke-linejoin="round" opacity="1"/>
<path d="M238.0,380.0C242.0,382.0 258.0,390.0 262.0,392.0" fill="none" stroke="#ffb000" stroke-width="14" stroke-linecap="round" stroke-linejoin="round" opacity="1"/>
</g>
<g filter="url(#bl5)">
<path d="M268.0,240.0C270.0,248.3 278.0,281.7 280.0,290.0" fill="none" stroke="#980000" stroke-width="9" stroke-linecap="round" stroke-linejoin="round" opacity="1"/>
<ellipse cx="135" cy="290" rx="5" ry="14" transform="rotate(10 135 290)" fill="#ff9000" opacity="1"/>
</g>
<g filter="url(#bl3)"><ellipse cx="98" cy="98" rx="84" ry="42" transform="rotate(-24 98 98)" fill="url(#cg2)"/></g>
</g></g>
<g transform="translate(70,300) scale(0.2616)">
<clipPath id="cl3"><path d="M25.0,155.0C25.8,150.0 24.2,135.5 30.0,125.0C35.8,114.5 48.3,101.0 60.0,92.0C71.7,83.0 86.7,76.0 100.0,71.0C113.3,66.0 125.8,62.2 140.0,62.0C154.2,61.8 170.0,62.0 185.0,70.0C200.0,78.0 216.7,93.3 230.0,110.0C243.3,126.7 255.0,148.3 265.0,170.0C275.0,191.7 284.0,216.7 290.0,240.0C296.0,263.3 300.0,288.3 301.0,310.0C302.0,331.7 299.2,352.5 296.0,370.0C292.8,387.5 286.3,405.0 282.0,415.0C277.7,425.0 272.0,427.5 270.0,430.0L270.0,430.0C264.2,428.5 246.7,424.3 235.0,421.0C223.3,417.7 212.5,413.8 200.0,410.0C187.5,406.2 173.3,402.2 160.0,398.0C146.7,393.8 132.5,389.3 120.0,385.0C107.5,380.7 95.8,376.2 85.0,372.0C74.2,367.8 60.0,362.0 55.0,360.0L55.0,360.0C55.8,355.0 56.7,339.7 60.0,330.0C63.3,320.3 74.0,308.7 75.0,302.0C76.0,295.3 64.3,297.0 66.0,290.0C67.7,283.0 83.3,271.3 85.0,260.0C86.7,248.7 80.8,234.3 76.0,222.0C71.2,209.7 64.5,197.2 56.0,186.0C47.5,174.8 30.2,160.2 25.0,155.0Z"/></clipPath>
<g clip-path="url(#cl3)">
<rect x="-20" y="-20" width="400" height="500" fill="#30e4e4"/>
<g filter="url(#bl18)">
<path d="M200.0,190.0C203.7,206.7 218.3,250.0 222.0,290.0C225.7,330.0 222.0,406.7 222.0,430.0" fill="none" stroke="#e8f428" stroke-width="84" stroke-linecap="round" stroke-linejoin="round" opacity="1"/>
<path d="M60.0,180.0C64.2,192.5 84.7,226.7 85.0,255.0C85.3,283.3 65.8,334.2 62.0,350.0" fill="none" stroke="#0848ff" stroke-width="50" stroke-linecap="round" stroke-linejoin="round" opacity="1"/>
<ellipse cx="120" cy="400" rx="60" ry="25" transform="rotate(15 120 400)" fill="#30e0e0" opacity="1"/>
</g>
<g filter="url(#bl8)">
<path d="M215.0,190.0C220.0,206.7 238.8,255.0 245.0,290.0C251.2,325.0 250.8,381.7 252.0,400.0" fill="none" stroke="#ffa800" stroke-width="40" stroke-linecap="round" stroke-linejoin="round" opacity="1"/>
<path d="M52.0,190.0C56.0,200.8 75.3,228.3 76.0,255.0C76.7,281.7 59.3,334.2 56.0,350.0" fill="none" stroke="#0020f0" stroke-width="22" stroke-linecap="round" stroke-linejoin="round" opacity="1"/>
<path d="M188.0,92.0C194.3,98.7 214.7,115.3 226.0,132.0C237.3,148.7 247.3,170.3 256.0,192.0C264.7,213.7 272.7,239.0 278.0,262.0C283.3,285.0 286.8,308.7 288.0,330.0C289.2,351.3 287.0,373.7 285.0,390.0C283.0,406.3 277.5,421.7 276.0,428.0" fill="none" stroke="#ff2800" stroke-width="52" stroke-linecap="round" stroke-linejoin="round" opacity="1"/>
</g>
<g filter="url(#bl5)">
<path d="M238.0,168.0C241.3,175.8 251.8,197.2 258.0,215.0C264.2,232.8 270.7,255.0 275.0,275.0C279.3,295.0 282.5,325.0 284.0,335.0" fill="none" stroke="#900000" stroke-width="26" stroke-linecap="round" stroke-linejoin="round" opacity="1"/>
</g>
<g filter="url(#bl3)"><ellipse cx="106" cy="112" rx="86" ry="46" transform="rotate(-24 106 112)" fill="url(#cg3)"/></g>
</g></g>
<g transform="translate(0,135) scale(0.14806)">
<defs><linearGradient id="bg" x1="0" y1="0.5" x2="1" y2="0.3"><stop offset="0" stop-color="#7e4316"/><stop offset="0.25" stop-color="#a85f1c"/><stop offset="0.7" stop-color="#c27a1e"/><stop offset="1" stop-color="#b06a1c"/></linearGradient></defs>
<path d="M195,105L193,42" stroke="#dcd3cd" stroke-width="32" fill="none"/>
<path d="M236,115L235,42" stroke="#dcd3cd" stroke-width="26" fill="none"/>
<path d="M282,140L316,48" stroke="#dcd3cd" stroke-width="34" fill="none"/>
<path d="M52,650C50,500 52,350 56,232C60,142 95,120 140,122C190,125 230,160 265,188" stroke="#d5c9c2" stroke-width="84" fill="none" stroke-linecap="round"/>
<g filter="url(#bl8)"><path d="M52,650C50,500 52,350 56,232C60,142 95,120 140,122C190,125 230,160 265,188" stroke="#e6deda" stroke-width="34" fill="none" stroke-linecap="round"/></g>
<path d="M220,215L290,140C308,150 322,160 332,172C350,195 362,215 372,235C384,262 392,290 393,312C394,340 392,358 388,366C384,374 378,376 370,376C345,376 325,372 308,367C285,360 268,352 256,344C246,330 240,315 238,298C236,280 238,262 232,245C228,232 222,225 220,215Z" fill="url(#bg)"/>
</g>
</svg>
</body></html>
